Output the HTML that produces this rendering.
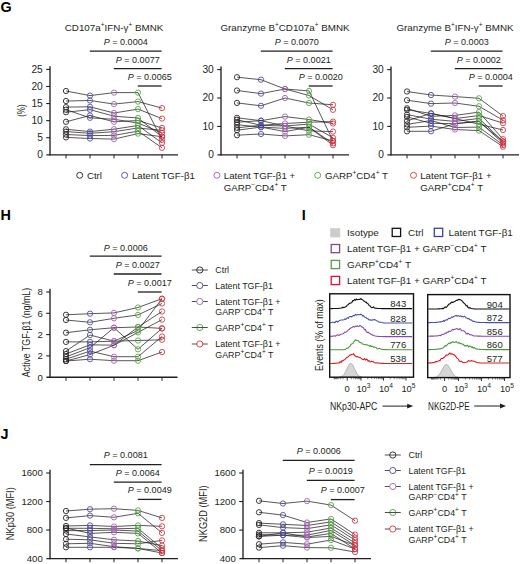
<!DOCTYPE html>
<html><head><meta charset="utf-8"><style>
html,body{margin:0;padding:0;background:#fff;}
body{width:520px;height:564px;overflow:hidden;}
svg{display:block;font-family:'Liberation Sans',sans-serif;}
svg text{font-family:"Liberation Sans",sans-serif;}
</style></head><body>
<svg width="520" height="564" viewBox="0 0 520 564">
<rect width="520" height="564" fill="#fff"/>
<text x="0.60" y="12.00" font-size="14.4" text-anchor="start" fill="#000" font-weight="bold">G</text>
<text x="114.00" y="31.00" font-size="9.8" text-anchor="middle" fill="#231f20" >CD107a<tspan font-size="6.5" dy="-3.6">+</tspan><tspan dy="3.6">​</tspan>IFN-γ<tspan font-size="6.5" dy="-3.6">+</tspan><tspan dy="3.6">​</tspan> BMNK</text>
<line x1="50.00" y1="66.20" x2="50.00" y2="155.40" stroke="#231f20" stroke-width="1.35" />
<line x1="46.40" y1="154.80" x2="178.00" y2="154.80" stroke="#231f20" stroke-width="1.35" />
<text x="42.80" y="158.20" font-size="10.2" text-anchor="end" fill="#231f20" >0</text>
<line x1="46.20" y1="137.72" x2="50.00" y2="137.72" stroke="#231f20" stroke-width="1.1" />
<text x="42.80" y="141.12" font-size="10.2" text-anchor="end" fill="#231f20" >5</text>
<line x1="46.20" y1="120.64" x2="50.00" y2="120.64" stroke="#231f20" stroke-width="1.1" />
<text x="42.80" y="124.04" font-size="10.2" text-anchor="end" fill="#231f20" >10</text>
<line x1="46.20" y1="103.56" x2="50.00" y2="103.56" stroke="#231f20" stroke-width="1.1" />
<text x="42.80" y="106.96" font-size="10.2" text-anchor="end" fill="#231f20" >15</text>
<line x1="46.20" y1="86.48" x2="50.00" y2="86.48" stroke="#231f20" stroke-width="1.1" />
<text x="42.80" y="89.88" font-size="10.2" text-anchor="end" fill="#231f20" >20</text>
<line x1="46.20" y1="69.40" x2="50.00" y2="69.40" stroke="#231f20" stroke-width="1.1" />
<text x="42.80" y="72.80" font-size="10.2" text-anchor="end" fill="#231f20" >25</text>
<line x1="66.00" y1="154.80" x2="66.00" y2="158.40" stroke="#231f20" stroke-width="1.0" />
<line x1="90.00" y1="154.80" x2="90.00" y2="158.40" stroke="#231f20" stroke-width="1.0" />
<line x1="114.00" y1="154.80" x2="114.00" y2="158.40" stroke="#231f20" stroke-width="1.0" />
<line x1="138.00" y1="154.80" x2="138.00" y2="158.40" stroke="#231f20" stroke-width="1.0" />
<line x1="162.00" y1="154.80" x2="162.00" y2="158.40" stroke="#231f20" stroke-width="1.0" />
<polyline fill="none" stroke="#231f20" stroke-width="0.75" points="66.00,91.00 90.00,95.60 114.00,92.60 138.00,92.60 162.00,139.80"/>
<polyline fill="none" stroke="#231f20" stroke-width="0.75" points="66.00,101.00 90.00,100.50 114.00,104.10 138.00,101.60 162.00,108.10"/>
<polyline fill="none" stroke="#231f20" stroke-width="0.75" points="66.00,107.10 90.00,106.80 114.00,113.00 138.00,109.10 162.00,118.60"/>
<polyline fill="none" stroke="#231f20" stroke-width="0.75" points="66.00,109.70 90.00,117.80 114.00,119.30 138.00,123.00 162.00,132.90"/>
<polyline fill="none" stroke="#231f20" stroke-width="0.75" points="66.00,112.20 90.00,109.70 114.00,116.20 138.00,118.00 162.00,136.70"/>
<polyline fill="none" stroke="#231f20" stroke-width="0.75" points="66.00,121.80 90.00,115.50 114.00,121.80 138.00,120.50 162.00,128.00"/>
<polyline fill="none" stroke="#231f20" stroke-width="0.75" points="66.00,129.30 90.00,131.60 114.00,129.20 138.00,125.50 162.00,142.90"/>
<polyline fill="none" stroke="#231f20" stroke-width="0.75" points="66.00,131.60 90.00,133.30 114.00,131.70 138.00,128.00 162.00,130.40"/>
<polyline fill="none" stroke="#231f20" stroke-width="0.75" points="66.00,134.50 90.00,135.60 114.00,135.40 138.00,131.10 162.00,147.80"/>
<polyline fill="none" stroke="#231f20" stroke-width="0.75" points="66.00,137.40 90.00,138.50 114.00,139.10 138.00,133.60 162.00,136.70"/>
<circle cx="66.00" cy="91.00" r="2.65" fill="none" stroke="#231f20" stroke-width="0.85"/>
<circle cx="66.00" cy="101.00" r="2.65" fill="none" stroke="#231f20" stroke-width="0.85"/>
<circle cx="66.00" cy="107.10" r="2.65" fill="none" stroke="#231f20" stroke-width="0.85"/>
<circle cx="66.00" cy="109.70" r="2.65" fill="none" stroke="#231f20" stroke-width="0.85"/>
<circle cx="66.00" cy="112.20" r="2.65" fill="none" stroke="#231f20" stroke-width="0.85"/>
<circle cx="66.00" cy="121.80" r="2.65" fill="none" stroke="#231f20" stroke-width="0.85"/>
<circle cx="66.00" cy="129.30" r="2.65" fill="none" stroke="#231f20" stroke-width="0.85"/>
<circle cx="66.00" cy="131.60" r="2.65" fill="none" stroke="#231f20" stroke-width="0.85"/>
<circle cx="66.00" cy="134.50" r="2.65" fill="none" stroke="#231f20" stroke-width="0.85"/>
<circle cx="66.00" cy="137.40" r="2.65" fill="none" stroke="#231f20" stroke-width="0.85"/>
<circle cx="90.00" cy="95.60" r="2.65" fill="none" stroke="#4a4a9c" stroke-width="0.85"/>
<circle cx="90.00" cy="100.50" r="2.65" fill="none" stroke="#4a4a9c" stroke-width="0.85"/>
<circle cx="90.00" cy="106.80" r="2.65" fill="none" stroke="#4a4a9c" stroke-width="0.85"/>
<circle cx="90.00" cy="117.80" r="2.65" fill="none" stroke="#4a4a9c" stroke-width="0.85"/>
<circle cx="90.00" cy="109.70" r="2.65" fill="none" stroke="#4a4a9c" stroke-width="0.85"/>
<circle cx="90.00" cy="115.50" r="2.65" fill="none" stroke="#4a4a9c" stroke-width="0.85"/>
<circle cx="90.00" cy="131.60" r="2.65" fill="none" stroke="#4a4a9c" stroke-width="0.85"/>
<circle cx="90.00" cy="133.30" r="2.65" fill="none" stroke="#4a4a9c" stroke-width="0.85"/>
<circle cx="90.00" cy="135.60" r="2.65" fill="none" stroke="#4a4a9c" stroke-width="0.85"/>
<circle cx="90.00" cy="138.50" r="2.65" fill="none" stroke="#4a4a9c" stroke-width="0.85"/>
<circle cx="114.00" cy="92.60" r="2.65" fill="none" stroke="#a062b0" stroke-width="0.85"/>
<circle cx="114.00" cy="104.10" r="2.65" fill="none" stroke="#a062b0" stroke-width="0.85"/>
<circle cx="114.00" cy="113.00" r="2.65" fill="none" stroke="#a062b0" stroke-width="0.85"/>
<circle cx="114.00" cy="119.30" r="2.65" fill="none" stroke="#a062b0" stroke-width="0.85"/>
<circle cx="114.00" cy="116.20" r="2.65" fill="none" stroke="#a062b0" stroke-width="0.85"/>
<circle cx="114.00" cy="121.80" r="2.65" fill="none" stroke="#a062b0" stroke-width="0.85"/>
<circle cx="114.00" cy="129.20" r="2.65" fill="none" stroke="#a062b0" stroke-width="0.85"/>
<circle cx="114.00" cy="131.70" r="2.65" fill="none" stroke="#a062b0" stroke-width="0.85"/>
<circle cx="114.00" cy="135.40" r="2.65" fill="none" stroke="#a062b0" stroke-width="0.85"/>
<circle cx="114.00" cy="139.10" r="2.65" fill="none" stroke="#a062b0" stroke-width="0.85"/>
<circle cx="138.00" cy="92.60" r="2.65" fill="none" stroke="#58a048" stroke-width="0.85"/>
<circle cx="138.00" cy="101.60" r="2.65" fill="none" stroke="#58a048" stroke-width="0.85"/>
<circle cx="138.00" cy="109.10" r="2.65" fill="none" stroke="#58a048" stroke-width="0.85"/>
<circle cx="138.00" cy="123.00" r="2.65" fill="none" stroke="#58a048" stroke-width="0.85"/>
<circle cx="138.00" cy="118.00" r="2.65" fill="none" stroke="#58a048" stroke-width="0.85"/>
<circle cx="138.00" cy="120.50" r="2.65" fill="none" stroke="#58a048" stroke-width="0.85"/>
<circle cx="138.00" cy="125.50" r="2.65" fill="none" stroke="#58a048" stroke-width="0.85"/>
<circle cx="138.00" cy="128.00" r="2.65" fill="none" stroke="#58a048" stroke-width="0.85"/>
<circle cx="138.00" cy="131.10" r="2.65" fill="none" stroke="#58a048" stroke-width="0.85"/>
<circle cx="138.00" cy="133.60" r="2.65" fill="none" stroke="#58a048" stroke-width="0.85"/>
<circle cx="162.00" cy="139.80" r="2.65" fill="none" stroke="#d23440" stroke-width="0.85"/>
<circle cx="162.00" cy="108.10" r="2.65" fill="none" stroke="#d23440" stroke-width="0.85"/>
<circle cx="162.00" cy="118.60" r="2.65" fill="none" stroke="#d23440" stroke-width="0.85"/>
<circle cx="162.00" cy="132.90" r="2.65" fill="none" stroke="#d23440" stroke-width="0.85"/>
<circle cx="162.00" cy="136.70" r="2.65" fill="none" stroke="#d23440" stroke-width="0.85"/>
<circle cx="162.00" cy="128.00" r="2.65" fill="none" stroke="#d23440" stroke-width="0.85"/>
<circle cx="162.00" cy="142.90" r="2.65" fill="none" stroke="#d23440" stroke-width="0.85"/>
<circle cx="162.00" cy="130.40" r="2.65" fill="none" stroke="#d23440" stroke-width="0.85"/>
<circle cx="162.00" cy="147.80" r="2.65" fill="none" stroke="#d23440" stroke-width="0.85"/>
<circle cx="162.00" cy="136.70" r="2.65" fill="none" stroke="#d23440" stroke-width="0.85"/>
<line x1="89.80" y1="51.20" x2="161.60" y2="51.20" stroke="#231f20" stroke-width="1.3" />
<text transform="translate(125.70,45.00) scale(0.975,1)" font-size="9.3" text-anchor="middle" fill="#231f20"><tspan font-style="italic">P</tspan> = 0.0004</text>
<line x1="113.80" y1="68.60" x2="161.60" y2="68.60" stroke="#231f20" stroke-width="1.3" />
<text transform="translate(137.70,62.50) scale(0.975,1)" font-size="9.3" text-anchor="middle" fill="#231f20"><tspan font-style="italic">P</tspan> = 0.0077</text>
<line x1="137.80" y1="86.00" x2="161.60" y2="86.00" stroke="#231f20" stroke-width="1.3" />
<text transform="translate(149.70,79.60) scale(0.975,1)" font-size="9.3" text-anchor="middle" fill="#231f20"><tspan font-style="italic">P</tspan> = 0.0065</text>
<text transform="translate(25.1,110.6) rotate(-90) scale(0.74,1)" font-size="10.8" text-anchor="middle" fill="#231f20">(%)</text>
<text x="285.00" y="31.00" font-size="9.8" text-anchor="middle" fill="#231f20" >Granzyme B<tspan font-size="6.5" dy="-3.6">+</tspan><tspan dy="3.6">​</tspan>CD107a<tspan font-size="6.5" dy="-3.6">+</tspan><tspan dy="3.6">​</tspan> BMNK</text>
<line x1="221.00" y1="66.40" x2="221.00" y2="155.40" stroke="#231f20" stroke-width="1.35" />
<line x1="217.40" y1="154.80" x2="349.00" y2="154.80" stroke="#231f20" stroke-width="1.35" />
<text x="213.80" y="158.20" font-size="10.2" text-anchor="end" fill="#231f20" >0</text>
<line x1="217.20" y1="126.40" x2="221.00" y2="126.40" stroke="#231f20" stroke-width="1.1" />
<text x="213.80" y="129.80" font-size="10.2" text-anchor="end" fill="#231f20" >10</text>
<line x1="217.20" y1="98.00" x2="221.00" y2="98.00" stroke="#231f20" stroke-width="1.1" />
<text x="213.80" y="101.40" font-size="10.2" text-anchor="end" fill="#231f20" >20</text>
<line x1="217.20" y1="69.60" x2="221.00" y2="69.60" stroke="#231f20" stroke-width="1.1" />
<text x="213.80" y="73.00" font-size="10.2" text-anchor="end" fill="#231f20" >30</text>
<line x1="237.00" y1="154.80" x2="237.00" y2="158.40" stroke="#231f20" stroke-width="1.0" />
<line x1="261.00" y1="154.80" x2="261.00" y2="158.40" stroke="#231f20" stroke-width="1.0" />
<line x1="285.00" y1="154.80" x2="285.00" y2="158.40" stroke="#231f20" stroke-width="1.0" />
<line x1="309.00" y1="154.80" x2="309.00" y2="158.40" stroke="#231f20" stroke-width="1.0" />
<line x1="333.00" y1="154.80" x2="333.00" y2="158.40" stroke="#231f20" stroke-width="1.0" />
<polyline fill="none" stroke="#231f20" stroke-width="0.75" points="237.00,77.20 261.00,79.70 285.00,89.00 309.00,90.90 333.00,140.90"/>
<polyline fill="none" stroke="#231f20" stroke-width="0.75" points="237.00,90.50 261.00,93.60 285.00,89.00 309.00,95.50 333.00,109.80"/>
<polyline fill="none" stroke="#231f20" stroke-width="0.75" points="237.00,102.90 261.00,105.80 285.00,98.00 309.00,103.00 333.00,104.80"/>
<polyline fill="none" stroke="#231f20" stroke-width="0.75" points="237.00,117.80 261.00,120.70 285.00,116.60 309.00,119.50 333.00,123.50"/>
<polyline fill="none" stroke="#231f20" stroke-width="0.75" points="237.00,119.70 261.00,125.30 285.00,123.50 309.00,122.20 333.00,121.60"/>
<polyline fill="none" stroke="#231f20" stroke-width="0.75" points="237.00,122.20 261.00,120.70 285.00,126.00 309.00,124.10 333.00,137.80"/>
<polyline fill="none" stroke="#231f20" stroke-width="0.75" points="237.00,124.70 261.00,127.10 285.00,128.40 309.00,127.20 333.00,143.40"/>
<polyline fill="none" stroke="#231f20" stroke-width="0.75" points="237.00,127.80 261.00,125.30 285.00,126.00 309.00,130.90 333.00,131.60"/>
<polyline fill="none" stroke="#231f20" stroke-width="0.75" points="237.00,130.20 261.00,127.10 285.00,131.60 309.00,127.20 333.00,145.20"/>
<polyline fill="none" stroke="#231f20" stroke-width="0.75" points="237.00,135.20 261.00,134.00 285.00,135.90 309.00,134.70 333.00,140.90"/>
<circle cx="237.00" cy="77.20" r="2.65" fill="none" stroke="#231f20" stroke-width="0.85"/>
<circle cx="237.00" cy="90.50" r="2.65" fill="none" stroke="#231f20" stroke-width="0.85"/>
<circle cx="237.00" cy="102.90" r="2.65" fill="none" stroke="#231f20" stroke-width="0.85"/>
<circle cx="237.00" cy="117.80" r="2.65" fill="none" stroke="#231f20" stroke-width="0.85"/>
<circle cx="237.00" cy="119.70" r="2.65" fill="none" stroke="#231f20" stroke-width="0.85"/>
<circle cx="237.00" cy="122.20" r="2.65" fill="none" stroke="#231f20" stroke-width="0.85"/>
<circle cx="237.00" cy="124.70" r="2.65" fill="none" stroke="#231f20" stroke-width="0.85"/>
<circle cx="237.00" cy="127.80" r="2.65" fill="none" stroke="#231f20" stroke-width="0.85"/>
<circle cx="237.00" cy="130.20" r="2.65" fill="none" stroke="#231f20" stroke-width="0.85"/>
<circle cx="237.00" cy="135.20" r="2.65" fill="none" stroke="#231f20" stroke-width="0.85"/>
<circle cx="261.00" cy="79.70" r="2.65" fill="none" stroke="#4a4a9c" stroke-width="0.85"/>
<circle cx="261.00" cy="93.60" r="2.65" fill="none" stroke="#4a4a9c" stroke-width="0.85"/>
<circle cx="261.00" cy="105.80" r="2.65" fill="none" stroke="#4a4a9c" stroke-width="0.85"/>
<circle cx="261.00" cy="120.70" r="2.65" fill="none" stroke="#4a4a9c" stroke-width="0.85"/>
<circle cx="261.00" cy="125.30" r="2.65" fill="none" stroke="#4a4a9c" stroke-width="0.85"/>
<circle cx="261.00" cy="120.70" r="2.65" fill="none" stroke="#4a4a9c" stroke-width="0.85"/>
<circle cx="261.00" cy="127.10" r="2.65" fill="none" stroke="#4a4a9c" stroke-width="0.85"/>
<circle cx="261.00" cy="125.30" r="2.65" fill="none" stroke="#4a4a9c" stroke-width="0.85"/>
<circle cx="261.00" cy="127.10" r="2.65" fill="none" stroke="#4a4a9c" stroke-width="0.85"/>
<circle cx="261.00" cy="134.00" r="2.65" fill="none" stroke="#4a4a9c" stroke-width="0.85"/>
<circle cx="285.00" cy="89.00" r="2.65" fill="none" stroke="#a062b0" stroke-width="0.85"/>
<circle cx="285.00" cy="89.00" r="2.65" fill="none" stroke="#a062b0" stroke-width="0.85"/>
<circle cx="285.00" cy="98.00" r="2.65" fill="none" stroke="#a062b0" stroke-width="0.85"/>
<circle cx="285.00" cy="116.60" r="2.65" fill="none" stroke="#a062b0" stroke-width="0.85"/>
<circle cx="285.00" cy="123.50" r="2.65" fill="none" stroke="#a062b0" stroke-width="0.85"/>
<circle cx="285.00" cy="126.00" r="2.65" fill="none" stroke="#a062b0" stroke-width="0.85"/>
<circle cx="285.00" cy="128.40" r="2.65" fill="none" stroke="#a062b0" stroke-width="0.85"/>
<circle cx="285.00" cy="126.00" r="2.65" fill="none" stroke="#a062b0" stroke-width="0.85"/>
<circle cx="285.00" cy="131.60" r="2.65" fill="none" stroke="#a062b0" stroke-width="0.85"/>
<circle cx="285.00" cy="135.90" r="2.65" fill="none" stroke="#a062b0" stroke-width="0.85"/>
<circle cx="309.00" cy="90.90" r="2.65" fill="none" stroke="#58a048" stroke-width="0.85"/>
<circle cx="309.00" cy="95.50" r="2.65" fill="none" stroke="#58a048" stroke-width="0.85"/>
<circle cx="309.00" cy="103.00" r="2.65" fill="none" stroke="#58a048" stroke-width="0.85"/>
<circle cx="309.00" cy="119.50" r="2.65" fill="none" stroke="#58a048" stroke-width="0.85"/>
<circle cx="309.00" cy="122.20" r="2.65" fill="none" stroke="#58a048" stroke-width="0.85"/>
<circle cx="309.00" cy="124.10" r="2.65" fill="none" stroke="#58a048" stroke-width="0.85"/>
<circle cx="309.00" cy="127.20" r="2.65" fill="none" stroke="#58a048" stroke-width="0.85"/>
<circle cx="309.00" cy="130.90" r="2.65" fill="none" stroke="#58a048" stroke-width="0.85"/>
<circle cx="309.00" cy="127.20" r="2.65" fill="none" stroke="#58a048" stroke-width="0.85"/>
<circle cx="309.00" cy="134.70" r="2.65" fill="none" stroke="#58a048" stroke-width="0.85"/>
<circle cx="333.00" cy="140.90" r="2.65" fill="none" stroke="#d23440" stroke-width="0.85"/>
<circle cx="333.00" cy="109.80" r="2.65" fill="none" stroke="#d23440" stroke-width="0.85"/>
<circle cx="333.00" cy="104.80" r="2.65" fill="none" stroke="#d23440" stroke-width="0.85"/>
<circle cx="333.00" cy="123.50" r="2.65" fill="none" stroke="#d23440" stroke-width="0.85"/>
<circle cx="333.00" cy="121.60" r="2.65" fill="none" stroke="#d23440" stroke-width="0.85"/>
<circle cx="333.00" cy="137.80" r="2.65" fill="none" stroke="#d23440" stroke-width="0.85"/>
<circle cx="333.00" cy="143.40" r="2.65" fill="none" stroke="#d23440" stroke-width="0.85"/>
<circle cx="333.00" cy="131.60" r="2.65" fill="none" stroke="#d23440" stroke-width="0.85"/>
<circle cx="333.00" cy="145.20" r="2.65" fill="none" stroke="#d23440" stroke-width="0.85"/>
<circle cx="333.00" cy="140.90" r="2.65" fill="none" stroke="#d23440" stroke-width="0.85"/>
<line x1="260.80" y1="51.20" x2="332.60" y2="51.20" stroke="#231f20" stroke-width="1.3" />
<text transform="translate(296.70,45.00) scale(0.975,1)" font-size="9.3" text-anchor="middle" fill="#231f20"><tspan font-style="italic">P</tspan> = 0.0070</text>
<line x1="284.80" y1="68.60" x2="332.60" y2="68.60" stroke="#231f20" stroke-width="1.3" />
<text transform="translate(308.70,62.50) scale(0.975,1)" font-size="9.3" text-anchor="middle" fill="#231f20"><tspan font-style="italic">P</tspan> = 0.0021</text>
<line x1="308.80" y1="86.00" x2="332.60" y2="86.00" stroke="#231f20" stroke-width="1.3" />
<text transform="translate(320.70,79.60) scale(0.975,1)" font-size="9.3" text-anchor="middle" fill="#231f20"><tspan font-style="italic">P</tspan> = 0.0020</text>
<text x="455.00" y="31.00" font-size="9.8" text-anchor="middle" fill="#231f20" >Granzyme B<tspan font-size="6.5" dy="-3.6">+</tspan><tspan dy="3.6">​</tspan>IFN-γ<tspan font-size="6.5" dy="-3.6">+</tspan><tspan dy="3.6">​</tspan> BMNK</text>
<line x1="391.00" y1="66.40" x2="391.00" y2="155.40" stroke="#231f20" stroke-width="1.35" />
<line x1="387.40" y1="154.80" x2="519.00" y2="154.80" stroke="#231f20" stroke-width="1.35" />
<text x="383.80" y="158.20" font-size="10.2" text-anchor="end" fill="#231f20" >0</text>
<line x1="387.20" y1="126.40" x2="391.00" y2="126.40" stroke="#231f20" stroke-width="1.1" />
<text x="383.80" y="129.80" font-size="10.2" text-anchor="end" fill="#231f20" >10</text>
<line x1="387.20" y1="98.00" x2="391.00" y2="98.00" stroke="#231f20" stroke-width="1.1" />
<text x="383.80" y="101.40" font-size="10.2" text-anchor="end" fill="#231f20" >20</text>
<line x1="387.20" y1="69.60" x2="391.00" y2="69.60" stroke="#231f20" stroke-width="1.1" />
<text x="383.80" y="73.00" font-size="10.2" text-anchor="end" fill="#231f20" >30</text>
<line x1="407.00" y1="154.80" x2="407.00" y2="158.40" stroke="#231f20" stroke-width="1.0" />
<line x1="431.00" y1="154.80" x2="431.00" y2="158.40" stroke="#231f20" stroke-width="1.0" />
<line x1="455.00" y1="154.80" x2="455.00" y2="158.40" stroke="#231f20" stroke-width="1.0" />
<line x1="479.00" y1="154.80" x2="479.00" y2="158.40" stroke="#231f20" stroke-width="1.0" />
<line x1="503.00" y1="154.80" x2="503.00" y2="158.40" stroke="#231f20" stroke-width="1.0" />
<polyline fill="none" stroke="#231f20" stroke-width="0.75" points="407.00,91.50 431.00,95.00 455.00,96.60 479.00,98.30 503.00,116.10"/>
<polyline fill="none" stroke="#231f20" stroke-width="0.75" points="407.00,100.20 431.00,103.60 455.00,103.00 479.00,106.30 503.00,120.20"/>
<polyline fill="none" stroke="#231f20" stroke-width="0.75" points="407.00,108.30 431.00,116.30 455.00,115.40 479.00,112.10 503.00,139.20"/>
<polyline fill="none" stroke="#231f20" stroke-width="0.75" points="407.00,109.80 431.00,113.40 455.00,118.50 479.00,115.60 503.00,123.10"/>
<polyline fill="none" stroke="#231f20" stroke-width="0.75" points="407.00,114.60 431.00,119.20 455.00,121.40 479.00,118.40 503.00,141.50"/>
<polyline fill="none" stroke="#231f20" stroke-width="0.75" points="407.00,116.90 431.00,123.30 455.00,123.70 479.00,121.30 503.00,143.20"/>
<polyline fill="none" stroke="#231f20" stroke-width="0.75" points="407.00,120.90 431.00,113.40 455.00,118.50 479.00,124.20 503.00,130.00"/>
<polyline fill="none" stroke="#231f20" stroke-width="0.75" points="407.00,124.40 431.00,120.50 455.00,127.50 479.00,127.10 503.00,145.00"/>
<polyline fill="none" stroke="#231f20" stroke-width="0.75" points="407.00,127.30 431.00,126.10 455.00,129.50 479.00,130.60 503.00,146.70"/>
<polyline fill="none" stroke="#231f20" stroke-width="0.75" points="407.00,131.30 431.00,131.30 455.00,123.70 479.00,121.30 503.00,141.50"/>
<circle cx="407.00" cy="91.50" r="2.65" fill="none" stroke="#231f20" stroke-width="0.85"/>
<circle cx="407.00" cy="100.20" r="2.65" fill="none" stroke="#231f20" stroke-width="0.85"/>
<circle cx="407.00" cy="108.30" r="2.65" fill="none" stroke="#231f20" stroke-width="0.85"/>
<circle cx="407.00" cy="109.80" r="2.65" fill="none" stroke="#231f20" stroke-width="0.85"/>
<circle cx="407.00" cy="114.60" r="2.65" fill="none" stroke="#231f20" stroke-width="0.85"/>
<circle cx="407.00" cy="116.90" r="2.65" fill="none" stroke="#231f20" stroke-width="0.85"/>
<circle cx="407.00" cy="120.90" r="2.65" fill="none" stroke="#231f20" stroke-width="0.85"/>
<circle cx="407.00" cy="124.40" r="2.65" fill="none" stroke="#231f20" stroke-width="0.85"/>
<circle cx="407.00" cy="127.30" r="2.65" fill="none" stroke="#231f20" stroke-width="0.85"/>
<circle cx="407.00" cy="131.30" r="2.65" fill="none" stroke="#231f20" stroke-width="0.85"/>
<circle cx="431.00" cy="95.00" r="2.65" fill="none" stroke="#4a4a9c" stroke-width="0.85"/>
<circle cx="431.00" cy="103.60" r="2.65" fill="none" stroke="#4a4a9c" stroke-width="0.85"/>
<circle cx="431.00" cy="116.30" r="2.65" fill="none" stroke="#4a4a9c" stroke-width="0.85"/>
<circle cx="431.00" cy="113.40" r="2.65" fill="none" stroke="#4a4a9c" stroke-width="0.85"/>
<circle cx="431.00" cy="119.20" r="2.65" fill="none" stroke="#4a4a9c" stroke-width="0.85"/>
<circle cx="431.00" cy="123.30" r="2.65" fill="none" stroke="#4a4a9c" stroke-width="0.85"/>
<circle cx="431.00" cy="113.40" r="2.65" fill="none" stroke="#4a4a9c" stroke-width="0.85"/>
<circle cx="431.00" cy="120.50" r="2.65" fill="none" stroke="#4a4a9c" stroke-width="0.85"/>
<circle cx="431.00" cy="126.10" r="2.65" fill="none" stroke="#4a4a9c" stroke-width="0.85"/>
<circle cx="431.00" cy="131.30" r="2.65" fill="none" stroke="#4a4a9c" stroke-width="0.85"/>
<circle cx="455.00" cy="96.60" r="2.65" fill="none" stroke="#a062b0" stroke-width="0.85"/>
<circle cx="455.00" cy="103.00" r="2.65" fill="none" stroke="#a062b0" stroke-width="0.85"/>
<circle cx="455.00" cy="115.40" r="2.65" fill="none" stroke="#a062b0" stroke-width="0.85"/>
<circle cx="455.00" cy="118.50" r="2.65" fill="none" stroke="#a062b0" stroke-width="0.85"/>
<circle cx="455.00" cy="121.40" r="2.65" fill="none" stroke="#a062b0" stroke-width="0.85"/>
<circle cx="455.00" cy="123.70" r="2.65" fill="none" stroke="#a062b0" stroke-width="0.85"/>
<circle cx="455.00" cy="118.50" r="2.65" fill="none" stroke="#a062b0" stroke-width="0.85"/>
<circle cx="455.00" cy="127.50" r="2.65" fill="none" stroke="#a062b0" stroke-width="0.85"/>
<circle cx="455.00" cy="129.50" r="2.65" fill="none" stroke="#a062b0" stroke-width="0.85"/>
<circle cx="455.00" cy="123.70" r="2.65" fill="none" stroke="#a062b0" stroke-width="0.85"/>
<circle cx="479.00" cy="98.30" r="2.65" fill="none" stroke="#58a048" stroke-width="0.85"/>
<circle cx="479.00" cy="106.30" r="2.65" fill="none" stroke="#58a048" stroke-width="0.85"/>
<circle cx="479.00" cy="112.10" r="2.65" fill="none" stroke="#58a048" stroke-width="0.85"/>
<circle cx="479.00" cy="115.60" r="2.65" fill="none" stroke="#58a048" stroke-width="0.85"/>
<circle cx="479.00" cy="118.40" r="2.65" fill="none" stroke="#58a048" stroke-width="0.85"/>
<circle cx="479.00" cy="121.30" r="2.65" fill="none" stroke="#58a048" stroke-width="0.85"/>
<circle cx="479.00" cy="124.20" r="2.65" fill="none" stroke="#58a048" stroke-width="0.85"/>
<circle cx="479.00" cy="127.10" r="2.65" fill="none" stroke="#58a048" stroke-width="0.85"/>
<circle cx="479.00" cy="130.60" r="2.65" fill="none" stroke="#58a048" stroke-width="0.85"/>
<circle cx="479.00" cy="121.30" r="2.65" fill="none" stroke="#58a048" stroke-width="0.85"/>
<circle cx="503.00" cy="116.10" r="2.65" fill="none" stroke="#d23440" stroke-width="0.85"/>
<circle cx="503.00" cy="120.20" r="2.65" fill="none" stroke="#d23440" stroke-width="0.85"/>
<circle cx="503.00" cy="139.20" r="2.65" fill="none" stroke="#d23440" stroke-width="0.85"/>
<circle cx="503.00" cy="123.10" r="2.65" fill="none" stroke="#d23440" stroke-width="0.85"/>
<circle cx="503.00" cy="141.50" r="2.65" fill="none" stroke="#d23440" stroke-width="0.85"/>
<circle cx="503.00" cy="143.20" r="2.65" fill="none" stroke="#d23440" stroke-width="0.85"/>
<circle cx="503.00" cy="130.00" r="2.65" fill="none" stroke="#d23440" stroke-width="0.85"/>
<circle cx="503.00" cy="145.00" r="2.65" fill="none" stroke="#d23440" stroke-width="0.85"/>
<circle cx="503.00" cy="146.70" r="2.65" fill="none" stroke="#d23440" stroke-width="0.85"/>
<circle cx="503.00" cy="141.50" r="2.65" fill="none" stroke="#d23440" stroke-width="0.85"/>
<line x1="430.80" y1="51.20" x2="502.60" y2="51.20" stroke="#231f20" stroke-width="1.3" />
<text transform="translate(466.70,45.00) scale(0.975,1)" font-size="9.3" text-anchor="middle" fill="#231f20"><tspan font-style="italic">P</tspan> = 0.0003</text>
<line x1="454.80" y1="68.60" x2="502.60" y2="68.60" stroke="#231f20" stroke-width="1.3" />
<text transform="translate(478.70,62.50) scale(0.975,1)" font-size="9.3" text-anchor="middle" fill="#231f20"><tspan font-style="italic">P</tspan> = 0.0002</text>
<line x1="478.80" y1="86.00" x2="502.60" y2="86.00" stroke="#231f20" stroke-width="1.3" />
<text transform="translate(490.70,79.60) scale(0.975,1)" font-size="9.3" text-anchor="middle" fill="#231f20"><tspan font-style="italic">P</tspan> = 0.0004</text>
<circle cx="79.70" cy="175.30" r="3.0" fill="none" stroke="#231f20" stroke-width="0.9"/>
<text x="86.90" y="178.90" font-size="9.7" text-anchor="start" fill="#231f20" >Ctrl</text>
<circle cx="124.60" cy="175.30" r="3.0" fill="none" stroke="#4a4a9c" stroke-width="0.9"/>
<text x="131.90" y="178.90" font-size="9.7" text-anchor="start" fill="#231f20" >Latent TGF-β1</text>
<circle cx="216.90" cy="175.30" r="3.0" fill="none" stroke="#a062b0" stroke-width="0.9"/>
<text x="223.80" y="178.90" font-size="9.7" text-anchor="start" fill="#231f20" >Latent TGF-β1 +</text>
<text x="223.80" y="190.50" font-size="9.7" text-anchor="start" fill="#231f20" >GARP<tspan font-size="6.5" dy="-3.6">−</tspan><tspan dy="3.6">​</tspan>CD4<tspan font-size="6.5" dy="-3.6">+</tspan><tspan dy="3.6">​</tspan> T</text>
<circle cx="317.70" cy="175.30" r="3.0" fill="none" stroke="#58a048" stroke-width="0.9"/>
<text x="325.00" y="178.90" font-size="9.7" text-anchor="start" fill="#231f20" >GARP<tspan font-size="6.5" dy="-3.6">+</tspan><tspan dy="3.6">​</tspan>CD4<tspan font-size="6.5" dy="-3.6">+</tspan><tspan dy="3.6">​</tspan> T</text>
<circle cx="413.50" cy="175.30" r="3.0" fill="none" stroke="#d23440" stroke-width="0.9"/>
<text x="420.20" y="178.90" font-size="9.7" text-anchor="start" fill="#231f20" >Latent TGF-β1 +</text>
<text x="420.20" y="190.50" font-size="9.7" text-anchor="start" fill="#231f20" >GARP<tspan font-size="6.5" dy="-3.6">+</tspan><tspan dy="3.6">​</tspan>CD4<tspan font-size="6.5" dy="-3.6">+</tspan><tspan dy="3.6">​</tspan> T</text>
<text x="0.60" y="220.00" font-size="14.4" text-anchor="start" fill="#000" font-weight="bold">H</text>
<line x1="50.00" y1="288.80" x2="50.00" y2="377.80" stroke="#231f20" stroke-width="1.35" />
<line x1="46.40" y1="377.20" x2="177.50" y2="377.20" stroke="#231f20" stroke-width="1.35" />
<text x="42.80" y="380.60" font-size="9.6" text-anchor="end" fill="#231f20" >0</text>
<line x1="46.20" y1="355.90" x2="50.00" y2="355.90" stroke="#231f20" stroke-width="1.1" />
<text x="42.80" y="359.30" font-size="9.6" text-anchor="end" fill="#231f20" >2</text>
<line x1="46.20" y1="334.60" x2="50.00" y2="334.60" stroke="#231f20" stroke-width="1.1" />
<text x="42.80" y="338.00" font-size="9.6" text-anchor="end" fill="#231f20" >2</text>
<line x1="46.20" y1="313.30" x2="50.00" y2="313.30" stroke="#231f20" stroke-width="1.1" />
<text x="42.80" y="316.70" font-size="9.6" text-anchor="end" fill="#231f20" >6</text>
<line x1="46.20" y1="292.00" x2="50.00" y2="292.00" stroke="#231f20" stroke-width="1.1" />
<text x="42.80" y="295.40" font-size="9.6" text-anchor="end" fill="#231f20" >8</text>
<line x1="66.00" y1="377.20" x2="66.00" y2="380.80" stroke="#231f20" stroke-width="1.0" />
<line x1="90.00" y1="377.20" x2="90.00" y2="380.80" stroke="#231f20" stroke-width="1.0" />
<line x1="114.00" y1="377.20" x2="114.00" y2="380.80" stroke="#231f20" stroke-width="1.0" />
<line x1="138.00" y1="377.20" x2="138.00" y2="380.80" stroke="#231f20" stroke-width="1.0" />
<line x1="162.00" y1="377.20" x2="162.00" y2="380.80" stroke="#231f20" stroke-width="1.0" />
<polyline fill="none" stroke="#231f20" stroke-width="0.75" points="66.00,314.80 90.00,313.70 114.00,312.90 138.00,307.50 162.00,298.70"/>
<polyline fill="none" stroke="#231f20" stroke-width="0.75" points="66.00,320.00 90.00,322.30 114.00,318.30 138.00,314.90 162.00,303.50"/>
<polyline fill="none" stroke="#231f20" stroke-width="0.75" points="66.00,332.70 90.00,329.80 114.00,327.70 138.00,327.00 162.00,311.50"/>
<polyline fill="none" stroke="#231f20" stroke-width="0.75" points="66.00,341.90 90.00,341.90 114.00,341.20 138.00,340.50 162.00,339.80"/>
<polyline fill="none" stroke="#231f20" stroke-width="0.75" points="66.00,351.10 90.00,335.00 114.00,341.20 138.00,330.40 162.00,298.70"/>
<polyline fill="none" stroke="#231f20" stroke-width="0.75" points="66.00,354.00 90.00,344.80 114.00,345.20 138.00,332.40 162.00,319.60"/>
<polyline fill="none" stroke="#231f20" stroke-width="0.75" points="66.00,356.90 90.00,347.70 114.00,327.70 138.00,349.30 162.00,328.40"/>
<polyline fill="none" stroke="#231f20" stroke-width="0.75" points="66.00,359.20 90.00,351.10 114.00,356.70 138.00,356.70 162.00,336.50"/>
<polyline fill="none" stroke="#231f20" stroke-width="0.75" points="66.00,361.00 90.00,359.20 114.00,360.70 138.00,360.70 162.00,352.00"/>
<polyline fill="none" stroke="#231f20" stroke-width="0.75" points="66.00,361.00 90.00,354.60 114.00,345.20 138.00,327.00 162.00,328.40"/>
<circle cx="66.00" cy="314.80" r="2.65" fill="none" stroke="#231f20" stroke-width="0.85"/>
<circle cx="66.00" cy="320.00" r="2.65" fill="none" stroke="#231f20" stroke-width="0.85"/>
<circle cx="66.00" cy="332.70" r="2.65" fill="none" stroke="#231f20" stroke-width="0.85"/>
<circle cx="66.00" cy="341.90" r="2.65" fill="none" stroke="#231f20" stroke-width="0.85"/>
<circle cx="66.00" cy="351.10" r="2.65" fill="none" stroke="#231f20" stroke-width="0.85"/>
<circle cx="66.00" cy="354.00" r="2.65" fill="none" stroke="#231f20" stroke-width="0.85"/>
<circle cx="66.00" cy="356.90" r="2.65" fill="none" stroke="#231f20" stroke-width="0.85"/>
<circle cx="66.00" cy="359.20" r="2.65" fill="none" stroke="#231f20" stroke-width="0.85"/>
<circle cx="66.00" cy="361.00" r="2.65" fill="none" stroke="#231f20" stroke-width="0.85"/>
<circle cx="66.00" cy="361.00" r="2.65" fill="none" stroke="#231f20" stroke-width="0.85"/>
<circle cx="90.00" cy="313.70" r="2.65" fill="none" stroke="#4a4a9c" stroke-width="0.85"/>
<circle cx="90.00" cy="322.30" r="2.65" fill="none" stroke="#4a4a9c" stroke-width="0.85"/>
<circle cx="90.00" cy="329.80" r="2.65" fill="none" stroke="#4a4a9c" stroke-width="0.85"/>
<circle cx="90.00" cy="341.90" r="2.65" fill="none" stroke="#4a4a9c" stroke-width="0.85"/>
<circle cx="90.00" cy="335.00" r="2.65" fill="none" stroke="#4a4a9c" stroke-width="0.85"/>
<circle cx="90.00" cy="344.80" r="2.65" fill="none" stroke="#4a4a9c" stroke-width="0.85"/>
<circle cx="90.00" cy="347.70" r="2.65" fill="none" stroke="#4a4a9c" stroke-width="0.85"/>
<circle cx="90.00" cy="351.10" r="2.65" fill="none" stroke="#4a4a9c" stroke-width="0.85"/>
<circle cx="90.00" cy="359.20" r="2.65" fill="none" stroke="#4a4a9c" stroke-width="0.85"/>
<circle cx="90.00" cy="354.60" r="2.65" fill="none" stroke="#4a4a9c" stroke-width="0.85"/>
<circle cx="114.00" cy="312.90" r="2.65" fill="none" stroke="#a062b0" stroke-width="0.85"/>
<circle cx="114.00" cy="318.30" r="2.65" fill="none" stroke="#a062b0" stroke-width="0.85"/>
<circle cx="114.00" cy="327.70" r="2.65" fill="none" stroke="#a062b0" stroke-width="0.85"/>
<circle cx="114.00" cy="341.20" r="2.65" fill="none" stroke="#a062b0" stroke-width="0.85"/>
<circle cx="114.00" cy="341.20" r="2.65" fill="none" stroke="#a062b0" stroke-width="0.85"/>
<circle cx="114.00" cy="345.20" r="2.65" fill="none" stroke="#a062b0" stroke-width="0.85"/>
<circle cx="114.00" cy="327.70" r="2.65" fill="none" stroke="#a062b0" stroke-width="0.85"/>
<circle cx="114.00" cy="356.70" r="2.65" fill="none" stroke="#a062b0" stroke-width="0.85"/>
<circle cx="114.00" cy="360.70" r="2.65" fill="none" stroke="#a062b0" stroke-width="0.85"/>
<circle cx="114.00" cy="345.20" r="2.65" fill="none" stroke="#a062b0" stroke-width="0.85"/>
<circle cx="138.00" cy="307.50" r="2.65" fill="none" stroke="#58a048" stroke-width="0.85"/>
<circle cx="138.00" cy="314.90" r="2.65" fill="none" stroke="#58a048" stroke-width="0.85"/>
<circle cx="138.00" cy="327.00" r="2.65" fill="none" stroke="#58a048" stroke-width="0.85"/>
<circle cx="138.00" cy="340.50" r="2.65" fill="none" stroke="#58a048" stroke-width="0.85"/>
<circle cx="138.00" cy="330.40" r="2.65" fill="none" stroke="#58a048" stroke-width="0.85"/>
<circle cx="138.00" cy="332.40" r="2.65" fill="none" stroke="#58a048" stroke-width="0.85"/>
<circle cx="138.00" cy="349.30" r="2.65" fill="none" stroke="#58a048" stroke-width="0.85"/>
<circle cx="138.00" cy="356.70" r="2.65" fill="none" stroke="#58a048" stroke-width="0.85"/>
<circle cx="138.00" cy="360.70" r="2.65" fill="none" stroke="#58a048" stroke-width="0.85"/>
<circle cx="138.00" cy="327.00" r="2.65" fill="none" stroke="#58a048" stroke-width="0.85"/>
<circle cx="162.00" cy="298.70" r="2.65" fill="none" stroke="#d23440" stroke-width="0.85"/>
<circle cx="162.00" cy="303.50" r="2.65" fill="none" stroke="#d23440" stroke-width="0.85"/>
<circle cx="162.00" cy="311.50" r="2.65" fill="none" stroke="#d23440" stroke-width="0.85"/>
<circle cx="162.00" cy="339.80" r="2.65" fill="none" stroke="#d23440" stroke-width="0.85"/>
<circle cx="162.00" cy="298.70" r="2.65" fill="none" stroke="#d23440" stroke-width="0.85"/>
<circle cx="162.00" cy="319.60" r="2.65" fill="none" stroke="#d23440" stroke-width="0.85"/>
<circle cx="162.00" cy="328.40" r="2.65" fill="none" stroke="#d23440" stroke-width="0.85"/>
<circle cx="162.00" cy="336.50" r="2.65" fill="none" stroke="#d23440" stroke-width="0.85"/>
<circle cx="162.00" cy="352.00" r="2.65" fill="none" stroke="#d23440" stroke-width="0.85"/>
<circle cx="162.00" cy="328.40" r="2.65" fill="none" stroke="#d23440" stroke-width="0.85"/>
<line x1="89.80" y1="256.20" x2="161.60" y2="256.20" stroke="#231f20" stroke-width="1.3" />
<text transform="translate(125.70,250.80) scale(0.975,1)" font-size="9.3" text-anchor="middle" fill="#231f20"><tspan font-style="italic">P</tspan> = 0.0006</text>
<line x1="113.80" y1="274.00" x2="161.60" y2="274.00" stroke="#231f20" stroke-width="1.3" />
<text transform="translate(137.70,268.30) scale(0.975,1)" font-size="9.3" text-anchor="middle" fill="#231f20"><tspan font-style="italic">P</tspan> = 0.0027</text>
<line x1="137.80" y1="292.00" x2="161.60" y2="292.00" stroke="#231f20" stroke-width="1.3" />
<text transform="translate(149.70,285.60) scale(0.975,1)" font-size="9.3" text-anchor="middle" fill="#231f20"><tspan font-style="italic">P</tspan> = 0.0017</text>
<text transform="translate(30.2,332.6) rotate(-90) scale(0.88,1)" font-size="10" text-anchor="middle" fill="#231f20">Active TGF-β1 (ng/mL)</text>
<circle cx="199.80" cy="270.00" r="3.1" fill="none" stroke="#231f20" stroke-width="0.9"/>
<line x1="191.80" y1="270.00" x2="207.80" y2="270.00" stroke="#3a3a3a" stroke-width="0.9" />
<text x="215.30" y="273.20" font-size="8.85" text-anchor="start" fill="#231f20" >Ctrl</text>
<line x1="191.80" y1="285.50" x2="207.80" y2="285.50" stroke="#3a3a3a" stroke-width="0.9" />
<circle cx="199.80" cy="285.50" r="3.1" fill="#fff" stroke="#4a4a9c" stroke-width="0.9"/>
<text x="215.30" y="288.70" font-size="8.85" text-anchor="start" fill="#231f20" >Latent TGF-β1</text>
<line x1="191.80" y1="301.50" x2="207.80" y2="301.50" stroke="#3a3a3a" stroke-width="0.9" />
<circle cx="199.80" cy="301.50" r="3.1" fill="#fff" stroke="#a062b0" stroke-width="0.9"/>
<text x="215.30" y="304.70" font-size="8.85" text-anchor="start" fill="#231f20" >Latent TGF-β1 +</text>
<text x="215.30" y="315.30" font-size="8.85" text-anchor="start" fill="#231f20" >GARP<tspan font-size="6.5" dy="-3.6">−</tspan><tspan dy="3.6">​</tspan>CD4<tspan font-size="6.5" dy="-3.6">+</tspan><tspan dy="3.6">​</tspan> T</text>
<circle cx="199.80" cy="327.50" r="3.1" fill="none" stroke="#58a048" stroke-width="0.9"/>
<line x1="191.80" y1="327.50" x2="207.80" y2="327.50" stroke="#3a3a3a" stroke-width="0.9" />
<text x="215.30" y="330.70" font-size="8.85" text-anchor="start" fill="#231f20" >GARP<tspan font-size="6.5" dy="-3.6">+</tspan><tspan dy="3.6">​</tspan>CD4<tspan font-size="6.5" dy="-3.6">+</tspan><tspan dy="3.6">​</tspan> T</text>
<line x1="191.80" y1="344.00" x2="207.80" y2="344.00" stroke="#3a3a3a" stroke-width="0.9" />
<circle cx="199.80" cy="344.00" r="3.1" fill="#fff" stroke="#d23440" stroke-width="0.9"/>
<text x="215.30" y="347.20" font-size="8.85" text-anchor="start" fill="#231f20" >Latent TGF-β1 +</text>
<text x="215.30" y="357.80" font-size="8.85" text-anchor="start" fill="#231f20" >GARP<tspan font-size="6.5" dy="-3.6">+</tspan><tspan dy="3.6">​</tspan>CD4<tspan font-size="6.5" dy="-3.6">+</tspan><tspan dy="3.6">​</tspan> T</text>
<text x="301.80" y="219.60" font-size="14.4" text-anchor="start" fill="#000" font-weight="bold">I</text>
<rect x="330.2" y="228.2" width="10" height="9.2" fill="#cccccc"/>
<text x="347.00" y="236.00" font-size="9.9" text-anchor="start" fill="#231f20" >Isotype</text>
<rect x="392.20" y="228.30" width="8.4" height="8.2" fill="none" stroke="#111" stroke-width="1.3"/>
<text x="408.00" y="236.00" font-size="9.9" text-anchor="start" fill="#231f20" >Ctrl</text>
<rect x="434.30" y="228.30" width="8.4" height="8.2" fill="none" stroke="#3a44a0" stroke-width="1.3"/>
<text x="448.60" y="236.00" font-size="9.9" text-anchor="start" fill="#231f20" >Latent TGF-β1</text>
<rect x="331.20" y="244.50" width="8.4" height="8.2" fill="none" stroke="#7d4a8e" stroke-width="1.3"/>
<text x="347.00" y="252.00" font-size="9.9" text-anchor="start" fill="#231f20" >Latent TGF-β1 + GARP<tspan font-size="6.5" dy="-3.6">−</tspan><tspan dy="3.6">​</tspan>CD4<tspan font-size="6.5" dy="-3.6">+</tspan><tspan dy="3.6">​</tspan> T</text>
<rect x="331.20" y="260.40" width="8.4" height="8.2" fill="none" stroke="#5e9a4e" stroke-width="1.3"/>
<text x="347.00" y="268.00" font-size="9.9" text-anchor="start" fill="#231f20" >GARP<tspan font-size="6.5" dy="-3.6">+</tspan><tspan dy="3.6">​</tspan>CD4<tspan font-size="6.5" dy="-3.6">+</tspan><tspan dy="3.6">​</tspan> T</text>
<rect x="331.20" y="276.40" width="8.4" height="8.2" fill="none" stroke="#d8123a" stroke-width="1.3"/>
<text x="347.00" y="284.00" font-size="9.9" text-anchor="start" fill="#231f20" >Latent TGF-β1 + GARP<tspan font-size="6.5" dy="-3.6">+</tspan><tspan dy="3.6">​</tspan>CD4<tspan font-size="6.5" dy="-3.6">+</tspan><tspan dy="3.6">​</tspan> T</text>
<path d="M330.30,308.59 L331.20,308.59 L332.10,308.58 L333.00,308.57 L333.90,308.56 L334.80,308.55 L335.70,308.52 L336.60,308.49 L337.50,308.45 L338.40,308.39 L339.30,308.31 L340.20,308.20 L341.10,308.06 L342.00,307.88 L342.90,307.18 L343.80,307.61 L344.70,307.20 L345.60,306.66 L346.50,306.38 L347.40,304.94 L348.30,304.68 L349.20,303.49 L350.10,303.15 L351.00,303.08 L351.90,302.34 L352.80,300.62 L353.70,300.61 L354.60,299.49 L355.50,300.18 L356.40,299.05 L357.30,299.77 L358.20,299.56 L359.10,299.33 L360.00,299.43 L360.90,298.56 L361.80,299.60 L362.70,299.71 L363.60,300.82 L364.50,301.19 L365.40,302.25 L366.30,302.14 L367.20,303.53 L368.10,303.82 L369.00,305.42 L369.90,305.82 L370.80,306.87 L371.70,307.57 L372.60,307.45 L373.50,307.03 L374.40,307.95 L375.30,308.15 L376.20,308.29 L377.10,308.39 L378.00,308.46 L378.90,308.51 L379.80,308.55 L380.70,308.57 L381.60,308.58 L382.50,308.59 L383.40,308.59 L384.30,308.60 L385.20,308.60 L386.10,308.60 L387.00,308.60 L387.90,308.60 L388.80,308.60 L389.70,308.60 L390.60,308.60 L391.50,308.60 L392.40,308.60 L393.30,308.60 L394.20,308.60 L395.10,308.60 L396.00,308.60 L396.90,308.60 L397.80,308.60 L398.70,308.60 L399.60,308.60 L400.50,308.60 L401.40,308.60 L402.30,308.60 L403.20,308.60 L404.10,308.60 L405.00,308.60 L405.90,308.60 L406.80,308.60 L407.70,308.60 L408.60,308.60 L409.50,308.60 L410.40,308.60 L411.30,308.60 L412.20,308.60" fill="none" stroke="#111" stroke-width="1.1"/>
<text x="406.20" y="307.20" font-size="9.5" text-anchor="end" fill="#231f20" >843</text>
<path d="M330.30,322.60 L331.20,322.52 L332.10,322.43 L333.00,322.32 L333.90,322.20 L334.80,322.75 L335.70,321.56 L336.60,321.15 L337.50,322.03 L338.40,321.51 L339.30,320.41 L340.20,320.31 L341.10,320.02 L342.00,319.93 L342.90,319.93 L343.80,319.80 L344.70,318.86 L345.60,319.44 L346.50,318.58 L347.40,317.69 L348.30,318.17 L349.20,316.80 L350.10,316.27 L351.00,316.81 L351.90,316.66 L352.80,315.86 L353.70,315.42 L354.60,315.68 L355.50,314.40 L356.40,315.03 L357.30,314.78 L358.20,314.60 L359.10,314.71 L360.00,314.64 L360.90,314.21 L361.80,314.60 L362.70,316.01 L363.60,315.63 L364.50,316.80 L365.40,317.57 L366.30,317.70 L367.20,318.72 L368.10,318.80 L369.00,319.91 L369.90,319.83 L370.80,320.13 L371.70,320.14 L372.60,319.87 L373.50,320.00 L374.40,319.39 L375.30,319.85 L376.20,320.54 L377.10,321.03 L378.00,321.23 L378.90,321.91 L379.80,322.16 L380.70,322.30 L381.60,322.54 L382.50,322.71 L383.40,322.82 L384.30,322.90 L385.20,322.94 L386.10,322.97 L387.00,322.99 L387.90,322.99 L388.80,323.00 L389.70,323.00 L390.60,323.00 L391.50,323.00 L392.40,323.00 L393.30,323.00 L394.20,323.00 L395.10,323.00 L396.00,323.00 L396.90,323.00 L397.80,323.00 L398.70,323.00 L399.60,323.00 L400.50,323.00 L401.40,323.00 L402.30,323.00 L403.20,323.00 L404.10,323.00 L405.00,323.00 L405.90,323.00 L406.80,323.00 L407.70,323.00 L408.60,323.00 L409.50,323.00 L410.40,323.00 L411.30,323.00 L412.20,323.00" fill="none" stroke="#4a52a8" stroke-width="1.1"/>
<text x="406.20" y="321.60" font-size="9.5" text-anchor="end" fill="#231f20" >828</text>
<path d="M330.30,336.39 L331.20,336.33 L332.10,336.25 L333.00,336.16 L333.90,336.05 L334.80,335.92 L335.70,336.20 L336.60,335.21 L337.50,334.76 L338.40,335.17 L339.30,335.39 L340.20,334.47 L341.10,334.26 L342.00,334.09 L342.90,333.76 L343.80,333.28 L344.70,332.03 L345.60,332.20 L346.50,331.79 L347.40,330.94 L348.30,329.99 L349.20,329.49 L350.10,328.50 L351.00,327.90 L351.90,327.61 L352.80,326.84 L353.70,326.60 L354.60,327.15 L355.50,326.24 L356.40,326.51 L357.30,325.91 L358.20,326.33 L359.10,326.19 L360.00,325.45 L360.90,326.08 L361.80,326.75 L362.70,327.55 L363.60,327.98 L364.50,329.66 L365.40,329.57 L366.30,331.56 L367.20,332.45 L368.10,332.19 L369.00,332.98 L369.90,333.42 L370.80,334.19 L371.70,334.48 L372.60,335.14 L373.50,335.20 L374.40,335.83 L375.30,336.03 L376.20,336.19 L377.10,336.31 L378.00,336.39 L378.90,336.46 L379.80,336.50 L380.70,336.54 L381.60,336.56 L382.50,336.57 L383.40,336.58 L384.30,336.59 L385.20,336.59 L386.10,336.60 L387.00,336.60 L387.90,336.60 L388.80,336.60 L389.70,336.60 L390.60,336.60 L391.50,336.60 L392.40,336.60 L393.30,336.60 L394.20,336.60 L395.10,336.60 L396.00,336.60 L396.90,336.60 L397.80,336.60 L398.70,336.60 L399.60,336.60 L400.50,336.60 L401.40,336.60 L402.30,336.60 L403.20,336.60 L404.10,336.60 L405.00,336.60 L405.90,336.60 L406.80,336.60 L407.70,336.60 L408.60,336.60 L409.50,336.60 L410.40,336.60 L411.30,336.60 L412.20,336.60" fill="none" stroke="#8a4aa8" stroke-width="1.1"/>
<text x="406.20" y="335.20" font-size="9.5" text-anchor="end" fill="#231f20" >805</text>
<path d="M330.30,349.80 L331.20,349.80 L332.10,349.80 L333.00,349.80 L333.90,349.80 L334.80,349.80 L335.70,349.80 L336.60,349.80 L337.50,349.80 L338.40,349.80 L339.30,349.79 L340.20,349.79 L341.10,349.77 L342.00,349.74 L342.90,349.69 L343.80,349.61 L344.70,349.48 L345.60,349.27 L346.50,348.41 L347.40,348.10 L348.30,348.08 L349.20,346.97 L350.10,346.10 L351.00,344.62 L351.90,343.84 L352.80,343.56 L353.70,341.97 L354.60,340.96 L355.50,340.00 L356.40,340.35 L357.30,340.78 L358.20,340.54 L359.10,341.94 L360.00,342.62 L360.90,342.62 L361.80,343.10 L362.70,344.07 L363.60,344.23 L364.50,344.51 L365.40,344.45 L366.30,345.01 L367.20,344.80 L368.10,345.26 L369.00,345.85 L369.90,346.27 L370.80,345.55 L371.70,346.70 L372.60,346.33 L373.50,347.25 L374.40,347.13 L375.30,347.23 L376.20,347.39 L377.10,348.71 L378.00,348.96 L378.90,348.44 L379.80,348.26 L380.70,349.10 L381.60,349.24 L382.50,349.36 L383.40,349.46 L384.30,349.54 L385.20,349.60 L386.10,349.65 L387.00,349.69 L387.90,349.72 L388.80,349.74 L389.70,349.76 L390.60,349.77 L391.50,349.78 L392.40,349.79 L393.30,349.79 L394.20,349.79 L395.10,349.80 L396.00,349.80 L396.90,349.80 L397.80,349.80 L398.70,349.80 L399.60,349.80 L400.50,349.80 L401.40,349.80 L402.30,349.80 L403.20,349.80 L404.10,349.80 L405.00,349.80 L405.90,349.80 L406.80,349.80 L407.70,349.80 L408.60,349.80 L409.50,349.80 L410.40,349.80 L411.30,349.80 L412.20,349.80" fill="none" stroke="#4a9a3a" stroke-width="1.1"/>
<text x="406.20" y="348.40" font-size="9.5" text-anchor="end" fill="#231f20" >776</text>
<path d="M330.30,363.49 L331.20,363.48 L332.10,363.46 L333.00,363.44 L333.90,363.40 L334.80,363.35 L335.70,363.28 L336.60,363.17 L337.50,363.01 L338.40,362.81 L339.30,362.98 L340.20,361.59 L341.10,362.38 L342.00,360.68 L342.90,360.97 L343.80,359.91 L344.70,359.59 L345.60,358.53 L346.50,357.70 L347.40,357.25 L348.30,356.67 L349.20,355.62 L350.10,354.85 L351.00,354.96 L351.90,354.23 L352.80,354.24 L353.70,353.74 L354.60,355.53 L355.50,356.02 L356.40,356.84 L357.30,356.53 L358.20,357.06 L359.10,357.53 L360.00,357.41 L360.90,358.15 L361.80,358.83 L362.70,359.44 L363.60,359.62 L364.50,358.71 L365.40,360.14 L366.30,359.19 L367.20,359.49 L368.10,361.16 L369.00,360.51 L369.90,361.77 L370.80,361.88 L371.70,361.19 L372.60,361.66 L373.50,361.79 L374.40,362.85 L375.30,362.98 L376.20,362.76 L377.10,362.91 L378.00,363.03 L378.90,363.13 L379.80,363.22 L380.70,363.28 L381.60,363.34 L382.50,363.38 L383.40,363.41 L384.30,363.44 L385.20,363.45 L386.10,363.47 L387.00,363.48 L387.90,363.48 L388.80,363.49 L389.70,363.49 L390.60,363.50 L391.50,363.50 L392.40,363.50 L393.30,363.50 L394.20,363.50 L395.10,363.50 L396.00,363.50 L396.90,363.50 L397.80,363.50 L398.70,363.50 L399.60,363.50 L400.50,363.50 L401.40,363.50 L402.30,363.50 L403.20,363.50 L404.10,363.50 L405.00,363.50 L405.90,363.50 L406.80,363.50 L407.70,363.50 L408.60,363.50 L409.50,363.50 L410.40,363.50 L411.30,363.50 L412.20,363.50" fill="none" stroke="#e01c24" stroke-width="1.1"/>
<text x="406.20" y="362.10" font-size="9.5" text-anchor="end" fill="#231f20" >538</text>
<path d="M339.40,377.05 L340.00,376.96 L340.60,376.82 L341.20,376.63 L341.80,376.36 L342.40,376.00 L343.00,375.52 L343.60,374.91 L344.20,374.15 L344.80,373.23 L345.40,372.17 L346.00,370.99 L346.60,369.71 L347.20,368.39 L347.80,367.09 L348.40,365.90 L349.00,364.86 L349.60,364.07 L350.20,363.57 L350.80,363.40 L351.40,363.57 L352.00,364.07 L352.60,364.86 L353.20,365.90 L353.80,367.09 L354.40,368.39 L355.00,369.71 L355.60,370.99 L356.20,372.17 L356.80,373.23 L357.40,374.15 L358.00,374.91 L358.60,375.52 L359.20,376.00 L359.80,376.36 L360.40,376.63 L361.00,376.82 L361.60,376.96 Z" fill="#d6d6d6" stroke="#9a9a9a" stroke-width="0.7"/>
<rect x="329.70" y="293.80" width="83.80" height="83.40" fill="none" stroke="#111" stroke-width="1.4"/>
<line x1="347.20" y1="377.20" x2="347.20" y2="380.60" stroke="#231f20" stroke-width="0.9" />
<line x1="361.00" y1="377.20" x2="361.00" y2="380.60" stroke="#231f20" stroke-width="0.9" />
<line x1="383.50" y1="377.20" x2="383.50" y2="380.60" stroke="#231f20" stroke-width="0.9" />
<line x1="406.00" y1="377.20" x2="406.00" y2="380.60" stroke="#231f20" stroke-width="0.9" />
<line x1="367.77" y1="377.20" x2="367.77" y2="379.20" stroke="#231f20" stroke-width="0.6" />
<line x1="371.74" y1="377.20" x2="371.74" y2="379.20" stroke="#231f20" stroke-width="0.6" />
<line x1="374.55" y1="377.20" x2="374.55" y2="379.20" stroke="#231f20" stroke-width="0.6" />
<line x1="376.73" y1="377.20" x2="376.73" y2="379.20" stroke="#231f20" stroke-width="0.6" />
<line x1="378.51" y1="377.20" x2="378.51" y2="379.20" stroke="#231f20" stroke-width="0.6" />
<line x1="380.01" y1="377.20" x2="380.01" y2="379.20" stroke="#231f20" stroke-width="0.6" />
<line x1="381.32" y1="377.20" x2="381.32" y2="379.20" stroke="#231f20" stroke-width="0.6" />
<line x1="382.47" y1="377.20" x2="382.47" y2="379.20" stroke="#231f20" stroke-width="0.6" />
<line x1="390.27" y1="377.20" x2="390.27" y2="379.20" stroke="#231f20" stroke-width="0.6" />
<line x1="394.24" y1="377.20" x2="394.24" y2="379.20" stroke="#231f20" stroke-width="0.6" />
<line x1="397.05" y1="377.20" x2="397.05" y2="379.20" stroke="#231f20" stroke-width="0.6" />
<line x1="399.23" y1="377.20" x2="399.23" y2="379.20" stroke="#231f20" stroke-width="0.6" />
<line x1="401.01" y1="377.20" x2="401.01" y2="379.20" stroke="#231f20" stroke-width="0.6" />
<line x1="402.51" y1="377.20" x2="402.51" y2="379.20" stroke="#231f20" stroke-width="0.6" />
<line x1="403.82" y1="377.20" x2="403.82" y2="379.20" stroke="#231f20" stroke-width="0.6" />
<line x1="404.97" y1="377.20" x2="404.97" y2="379.20" stroke="#231f20" stroke-width="0.6" />
<line x1="351.35" y1="377.20" x2="351.35" y2="379.20" stroke="#231f20" stroke-width="0.6" />
<line x1="343.05" y1="377.20" x2="343.05" y2="379.20" stroke="#231f20" stroke-width="0.6" />
<line x1="353.78" y1="377.20" x2="353.78" y2="379.20" stroke="#231f20" stroke-width="0.6" />
<line x1="340.62" y1="377.20" x2="340.62" y2="379.20" stroke="#231f20" stroke-width="0.6" />
<line x1="355.51" y1="377.20" x2="355.51" y2="379.20" stroke="#231f20" stroke-width="0.6" />
<line x1="338.89" y1="377.20" x2="338.89" y2="379.20" stroke="#231f20" stroke-width="0.6" />
<line x1="356.85" y1="377.20" x2="356.85" y2="379.20" stroke="#231f20" stroke-width="0.6" />
<line x1="337.55" y1="377.20" x2="337.55" y2="379.20" stroke="#231f20" stroke-width="0.6" />
<line x1="357.94" y1="377.20" x2="357.94" y2="379.20" stroke="#231f20" stroke-width="0.6" />
<line x1="336.46" y1="377.20" x2="336.46" y2="379.20" stroke="#231f20" stroke-width="0.6" />
<line x1="358.86" y1="377.20" x2="358.86" y2="379.20" stroke="#231f20" stroke-width="0.6" />
<line x1="335.54" y1="377.20" x2="335.54" y2="379.20" stroke="#231f20" stroke-width="0.6" />
<line x1="359.66" y1="377.20" x2="359.66" y2="379.20" stroke="#231f20" stroke-width="0.6" />
<line x1="334.74" y1="377.20" x2="334.74" y2="379.20" stroke="#231f20" stroke-width="0.6" />
<line x1="360.37" y1="377.20" x2="360.37" y2="379.20" stroke="#231f20" stroke-width="0.6" />
<line x1="334.03" y1="377.20" x2="334.03" y2="379.20" stroke="#231f20" stroke-width="0.6" />
<text x="347.20" y="391.80" font-size="9.4" text-anchor="middle" fill="#231f20" >0</text>
<text x="356.40" y="391.80" font-size="9.4" text-anchor="start" fill="#231f20" >10<tspan font-size="6.6" dy="-4.0">3</tspan><tspan dy="4.0">​</tspan></text>
<text x="378.90" y="391.80" font-size="9.4" text-anchor="start" fill="#231f20" >10<tspan font-size="6.6" dy="-4.0">4</tspan><tspan dy="4.0">​</tspan></text>
<text x="401.40" y="391.80" font-size="9.4" text-anchor="start" fill="#231f20" >10<tspan font-size="6.6" dy="-4.0">5</tspan><tspan dy="4.0">​</tspan></text>
<text transform="translate(330.0,409.6) scale(0.868,1)" font-size="10" fill="#231f20">NKp30-APC</text>
<line x1="382.50" y1="406.10" x2="409.20" y2="406.10" stroke="#231f20" stroke-width="1.0" />
<path d="M413.20,406.10 L407.20,403.70 L407.20,408.50 Z" fill="#231f20"/>
<path d="M428.30,309.00 L429.20,309.00 L430.10,309.00 L431.00,309.00 L431.90,309.00 L432.80,308.99 L433.70,308.99 L434.60,308.98 L435.50,308.97 L436.40,308.96 L437.30,308.94 L438.20,308.91 L439.10,308.87 L440.00,308.80 L440.90,308.72 L441.80,308.59 L442.70,308.41 L443.60,308.62 L444.50,307.35 L445.40,306.90 L446.30,307.38 L447.20,306.35 L448.10,305.09 L449.00,304.06 L449.90,303.91 L450.80,303.00 L451.70,302.10 L452.60,302.36 L453.50,302.13 L454.40,301.43 L455.30,301.23 L456.20,300.25 L457.10,300.49 L458.00,299.74 L458.90,299.39 L459.80,299.75 L460.70,299.87 L461.60,300.60 L462.50,301.17 L463.40,302.68 L464.30,303.45 L465.20,304.27 L466.10,305.73 L467.00,305.37 L467.90,307.31 L468.80,307.81 L469.70,307.69 L470.60,308.22 L471.50,308.48 L472.40,308.67 L473.30,308.80 L474.20,308.88 L475.10,308.93 L476.00,308.96 L476.90,308.98 L477.80,308.99 L478.70,308.99 L479.60,309.00 L480.50,309.00 L481.40,309.00 L482.30,309.00 L483.20,309.00 L484.10,309.00 L485.00,309.00 L485.90,309.00 L486.80,309.00 L487.70,309.00 L488.60,309.00 L489.50,309.00 L490.40,309.00 L491.30,309.00 L492.20,309.00 L493.10,309.00 L494.00,309.00 L494.90,309.00 L495.80,309.00 L496.70,309.00 L497.60,309.00 L498.50,309.00 L499.40,309.00 L500.30,309.00 L501.20,309.00 L502.10,309.00 L503.00,309.00 L503.90,309.00 L504.80,309.00 L505.70,309.00 L506.60,309.00 L507.50,309.00 L508.40,309.00 L509.30,309.00" fill="none" stroke="#111" stroke-width="1.1"/>
<text x="502.70" y="307.60" font-size="9.5" text-anchor="end" fill="#231f20" >904</text>
<path d="M428.30,322.59 L429.20,322.58 L430.10,322.58 L431.00,322.57 L431.90,322.55 L432.80,322.53 L433.70,322.50 L434.60,322.47 L435.50,322.42 L436.40,322.35 L437.30,322.27 L438.20,322.17 L439.10,322.04 L440.00,321.89 L440.90,321.90 L441.80,321.45 L442.70,321.38 L443.60,320.49 L444.50,321.27 L445.40,320.28 L446.30,319.91 L447.20,319.88 L448.10,318.86 L449.00,318.07 L449.90,318.67 L450.80,318.16 L451.70,316.87 L452.60,317.32 L453.50,316.40 L454.40,316.16 L455.30,315.66 L456.20,315.34 L457.10,316.33 L458.00,315.62 L458.90,316.07 L459.80,316.45 L460.70,315.70 L461.60,316.65 L462.50,316.56 L463.40,316.90 L464.30,316.26 L465.20,316.82 L466.10,317.84 L467.00,318.14 L467.90,318.84 L468.80,318.40 L469.70,319.63 L470.60,319.84 L471.50,320.11 L472.40,320.98 L473.30,321.36 L474.20,321.25 L475.10,321.81 L476.00,321.99 L476.90,322.13 L477.80,322.24 L478.70,322.33 L479.60,322.40 L480.50,322.45 L481.40,322.49 L482.30,322.52 L483.20,322.54 L484.10,322.56 L485.00,322.57 L485.90,322.58 L486.80,322.59 L487.70,322.59 L488.60,322.59 L489.50,322.60 L490.40,322.60 L491.30,322.60 L492.20,322.60 L493.10,322.60 L494.00,322.60 L494.90,322.60 L495.80,322.60 L496.70,322.60 L497.60,322.60 L498.50,322.60 L499.40,322.60 L500.30,322.60 L501.20,322.60 L502.10,322.60 L503.00,322.60 L503.90,322.60 L504.80,322.60 L505.70,322.60 L506.60,322.60 L507.50,322.60 L508.40,322.60 L509.30,322.60" fill="none" stroke="#4a52a8" stroke-width="1.1"/>
<text x="502.70" y="321.20" font-size="9.5" text-anchor="end" fill="#231f20" >872</text>
<path d="M428.30,336.19 L429.20,336.18 L430.10,336.17 L431.00,336.16 L431.90,336.14 L432.80,336.12 L433.70,336.09 L434.60,336.05 L435.50,335.99 L436.40,335.92 L437.30,335.83 L438.20,335.72 L439.10,335.58 L440.00,335.41 L440.90,335.65 L441.80,334.53 L442.70,334.39 L443.60,334.17 L444.50,334.00 L445.40,333.08 L446.30,333.16 L447.20,332.04 L448.10,332.39 L449.00,331.16 L449.90,331.20 L450.80,331.14 L451.70,330.28 L452.60,329.36 L453.50,329.80 L454.40,329.26 L455.30,329.27 L456.20,328.83 L457.10,328.57 L458.00,329.36 L458.90,329.36 L459.80,328.65 L460.70,329.24 L461.60,330.71 L462.50,330.71 L463.40,330.82 L464.30,331.18 L465.20,332.07 L466.10,333.58 L467.00,333.99 L467.90,333.28 L468.80,333.88 L469.70,334.68 L470.60,334.73 L471.50,334.75 L472.40,335.52 L473.30,335.69 L474.20,335.83 L475.10,335.93 L476.00,336.01 L476.90,336.07 L477.80,336.11 L478.70,336.14 L479.60,336.16 L480.50,336.17 L481.40,336.18 L482.30,336.19 L483.20,336.19 L484.10,336.20 L485.00,336.20 L485.90,336.20 L486.80,336.20 L487.70,336.20 L488.60,336.20 L489.50,336.20 L490.40,336.20 L491.30,336.20 L492.20,336.20 L493.10,336.20 L494.00,336.20 L494.90,336.20 L495.80,336.20 L496.70,336.20 L497.60,336.20 L498.50,336.20 L499.40,336.20 L500.30,336.20 L501.20,336.20 L502.10,336.20 L503.00,336.20 L503.90,336.20 L504.80,336.20 L505.70,336.20 L506.60,336.20 L507.50,336.20 L508.40,336.20 L509.30,336.20" fill="none" stroke="#8a4aa8" stroke-width="1.1"/>
<text x="502.70" y="334.80" font-size="9.5" text-anchor="end" fill="#231f20" >856</text>
<path d="M428.30,349.59 L429.20,349.59 L430.10,349.58 L431.00,349.57 L431.90,349.55 L432.80,349.52 L433.70,349.49 L434.60,349.44 L435.50,349.37 L436.40,349.28 L437.30,349.16 L438.20,349.01 L439.10,348.82 L440.00,348.89 L440.90,348.83 L441.80,348.25 L442.70,348.26 L443.60,347.00 L444.50,346.83 L445.40,345.51 L446.30,346.04 L447.20,344.75 L448.10,343.95 L449.00,343.14 L449.90,343.50 L450.80,342.54 L451.70,342.72 L452.60,341.61 L453.50,342.16 L454.40,342.38 L455.30,342.10 L456.20,341.66 L457.10,342.65 L458.00,343.01 L458.90,342.41 L459.80,343.40 L460.70,343.66 L461.60,343.69 L462.50,344.21 L463.40,344.20 L464.30,345.85 L465.20,345.62 L466.10,346.06 L467.00,345.41 L467.90,345.76 L468.80,346.91 L469.70,346.18 L470.60,346.22 L471.50,347.52 L472.40,346.83 L473.30,348.27 L474.20,347.46 L475.10,348.26 L476.00,348.86 L476.90,348.97 L477.80,349.15 L478.70,349.29 L479.60,349.38 L480.50,349.45 L481.40,349.50 L482.30,349.53 L483.20,349.55 L484.10,349.57 L485.00,349.58 L485.90,349.59 L486.80,349.59 L487.70,349.59 L488.60,349.60 L489.50,349.60 L490.40,349.60 L491.30,349.60 L492.20,349.60 L493.10,349.60 L494.00,349.60 L494.90,349.60 L495.80,349.60 L496.70,349.60 L497.60,349.60 L498.50,349.60 L499.40,349.60 L500.30,349.60 L501.20,349.60 L502.10,349.60 L503.00,349.60 L503.90,349.60 L504.80,349.60 L505.70,349.60 L506.60,349.60 L507.50,349.60 L508.40,349.60 L509.30,349.60" fill="none" stroke="#4a9a3a" stroke-width="1.1"/>
<text x="502.70" y="348.20" font-size="9.5" text-anchor="end" fill="#231f20" >860</text>
<path d="M428.30,362.95 L429.20,362.92 L430.10,362.89 L431.00,362.84 L431.90,362.77 L432.80,362.67 L433.70,362.55 L434.60,362.38 L435.50,361.60 L436.40,361.59 L437.30,361.75 L438.20,361.11 L439.10,360.56 L440.00,360.58 L440.90,358.96 L441.80,358.27 L442.70,358.62 L443.60,357.55 L444.50,357.27 L445.40,355.85 L446.30,354.91 L447.20,355.18 L448.10,354.79 L449.00,353.74 L449.90,353.08 L450.80,354.01 L451.70,353.68 L452.60,354.17 L453.50,354.73 L454.40,354.79 L455.30,355.90 L456.20,356.99 L457.10,358.39 L458.00,358.83 L458.90,360.32 L459.80,361.44 L460.70,361.42 L461.60,361.32 L462.50,362.28 L463.40,362.47 L464.30,362.54 L465.20,362.49 L466.10,362.32 L467.00,362.07 L467.90,361.01 L468.80,360.68 L469.70,361.14 L470.60,361.00 L471.50,360.63 L472.40,361.01 L473.30,361.14 L474.20,361.18 L475.10,361.39 L476.00,362.21 L476.90,362.47 L477.80,362.67 L478.70,362.80 L479.60,362.89 L480.50,362.94 L481.40,362.97 L482.30,362.99 L483.20,362.99 L484.10,363.00 L485.00,363.00 L485.90,363.00 L486.80,363.00 L487.70,363.00 L488.60,363.00 L489.50,363.00 L490.40,363.00 L491.30,363.00 L492.20,363.00 L493.10,363.00 L494.00,363.00 L494.90,363.00 L495.80,363.00 L496.70,363.00 L497.60,363.00 L498.50,363.00 L499.40,363.00 L500.30,363.00 L501.20,363.00 L502.10,363.00 L503.00,363.00 L503.90,363.00 L504.80,363.00 L505.70,363.00 L506.60,363.00 L507.50,363.00 L508.40,363.00 L509.30,363.00" fill="none" stroke="#e01c24" stroke-width="1.1"/>
<text x="502.70" y="361.60" font-size="9.5" text-anchor="end" fill="#231f20" >577</text>
<path d="M433.80,377.45 L434.40,377.38 L435.00,377.27 L435.60,377.12 L436.20,376.91 L436.80,376.63 L437.40,376.27 L438.00,375.81 L438.60,375.25 L439.20,374.56 L439.80,373.76 L440.40,372.84 L441.00,371.82 L441.60,370.73 L442.20,369.59 L442.80,368.46 L443.40,367.37 L444.00,366.39 L444.60,365.56 L445.20,364.93 L445.80,364.53 L446.40,364.40 L447.00,364.53 L447.60,364.93 L448.20,365.56 L448.80,366.39 L449.40,367.37 L450.00,368.46 L450.60,369.59 L451.20,370.73 L451.80,371.82 L452.40,372.84 L453.00,373.76 L453.60,374.56 L454.20,375.25 L454.80,375.81 L455.40,376.27 L456.00,376.63 L456.60,376.91 L457.20,377.12 L457.80,377.27 L458.40,377.38 Z" fill="#d6d6d6" stroke="#9a9a9a" stroke-width="0.7"/>
<rect x="427.70" y="294.60" width="82.30" height="83.00" fill="none" stroke="#111" stroke-width="1.4"/>
<line x1="444.60" y1="377.60" x2="444.60" y2="381.00" stroke="#231f20" stroke-width="0.9" />
<line x1="458.50" y1="377.60" x2="458.50" y2="381.00" stroke="#231f20" stroke-width="0.9" />
<line x1="481.50" y1="377.60" x2="481.50" y2="381.00" stroke="#231f20" stroke-width="0.9" />
<line x1="504.50" y1="377.60" x2="504.50" y2="381.00" stroke="#231f20" stroke-width="0.9" />
<line x1="465.42" y1="377.60" x2="465.42" y2="379.60" stroke="#231f20" stroke-width="0.6" />
<line x1="469.47" y1="377.60" x2="469.47" y2="379.60" stroke="#231f20" stroke-width="0.6" />
<line x1="472.35" y1="377.60" x2="472.35" y2="379.60" stroke="#231f20" stroke-width="0.6" />
<line x1="474.58" y1="377.60" x2="474.58" y2="379.60" stroke="#231f20" stroke-width="0.6" />
<line x1="476.40" y1="377.60" x2="476.40" y2="379.60" stroke="#231f20" stroke-width="0.6" />
<line x1="477.94" y1="377.60" x2="477.94" y2="379.60" stroke="#231f20" stroke-width="0.6" />
<line x1="479.27" y1="377.60" x2="479.27" y2="379.60" stroke="#231f20" stroke-width="0.6" />
<line x1="480.45" y1="377.60" x2="480.45" y2="379.60" stroke="#231f20" stroke-width="0.6" />
<line x1="488.42" y1="377.60" x2="488.42" y2="379.60" stroke="#231f20" stroke-width="0.6" />
<line x1="492.47" y1="377.60" x2="492.47" y2="379.60" stroke="#231f20" stroke-width="0.6" />
<line x1="495.35" y1="377.60" x2="495.35" y2="379.60" stroke="#231f20" stroke-width="0.6" />
<line x1="497.58" y1="377.60" x2="497.58" y2="379.60" stroke="#231f20" stroke-width="0.6" />
<line x1="499.40" y1="377.60" x2="499.40" y2="379.60" stroke="#231f20" stroke-width="0.6" />
<line x1="500.94" y1="377.60" x2="500.94" y2="379.60" stroke="#231f20" stroke-width="0.6" />
<line x1="502.27" y1="377.60" x2="502.27" y2="379.60" stroke="#231f20" stroke-width="0.6" />
<line x1="503.45" y1="377.60" x2="503.45" y2="379.60" stroke="#231f20" stroke-width="0.6" />
<line x1="448.78" y1="377.60" x2="448.78" y2="379.60" stroke="#231f20" stroke-width="0.6" />
<line x1="440.42" y1="377.60" x2="440.42" y2="379.60" stroke="#231f20" stroke-width="0.6" />
<line x1="451.23" y1="377.60" x2="451.23" y2="379.60" stroke="#231f20" stroke-width="0.6" />
<line x1="437.97" y1="377.60" x2="437.97" y2="379.60" stroke="#231f20" stroke-width="0.6" />
<line x1="452.97" y1="377.60" x2="452.97" y2="379.60" stroke="#231f20" stroke-width="0.6" />
<line x1="436.23" y1="377.60" x2="436.23" y2="379.60" stroke="#231f20" stroke-width="0.6" />
<line x1="454.32" y1="377.60" x2="454.32" y2="379.60" stroke="#231f20" stroke-width="0.6" />
<line x1="434.88" y1="377.60" x2="434.88" y2="379.60" stroke="#231f20" stroke-width="0.6" />
<line x1="455.42" y1="377.60" x2="455.42" y2="379.60" stroke="#231f20" stroke-width="0.6" />
<line x1="433.78" y1="377.60" x2="433.78" y2="379.60" stroke="#231f20" stroke-width="0.6" />
<line x1="456.35" y1="377.60" x2="456.35" y2="379.60" stroke="#231f20" stroke-width="0.6" />
<line x1="432.85" y1="377.60" x2="432.85" y2="379.60" stroke="#231f20" stroke-width="0.6" />
<line x1="457.15" y1="377.60" x2="457.15" y2="379.60" stroke="#231f20" stroke-width="0.6" />
<line x1="432.05" y1="377.60" x2="432.05" y2="379.60" stroke="#231f20" stroke-width="0.6" />
<line x1="457.86" y1="377.60" x2="457.86" y2="379.60" stroke="#231f20" stroke-width="0.6" />
<line x1="431.34" y1="377.60" x2="431.34" y2="379.60" stroke="#231f20" stroke-width="0.6" />
<text x="444.60" y="392.20" font-size="9.4" text-anchor="middle" fill="#231f20" >0</text>
<text x="453.90" y="392.20" font-size="9.4" text-anchor="start" fill="#231f20" >10<tspan font-size="6.6" dy="-4.0">3</tspan><tspan dy="4.0">​</tspan></text>
<text x="476.90" y="392.20" font-size="9.4" text-anchor="start" fill="#231f20" >10<tspan font-size="6.6" dy="-4.0">4</tspan><tspan dy="4.0">​</tspan></text>
<text x="499.90" y="392.20" font-size="9.4" text-anchor="start" fill="#231f20" >10<tspan font-size="6.6" dy="-4.0">5</tspan><tspan dy="4.0">​</tspan></text>
<text transform="translate(428.0,409.5) scale(0.818,1)" font-size="10" fill="#231f20">NKG2D-PE</text>
<line x1="474.20" y1="406.00" x2="502.00" y2="406.00" stroke="#231f20" stroke-width="1.0" />
<path d="M506.00,406.00 L500.00,403.60 L500.00,408.40 Z" fill="#231f20"/>
<text transform="translate(322.6,335.2) rotate(-90) scale(0.88,1)" font-size="10" text-anchor="middle" fill="#231f20">Events (% of max)</text>
<text x="0.60" y="439.00" font-size="14.4" text-anchor="start" fill="#000" font-weight="bold">J</text>
<line x1="50.00" y1="469.80" x2="50.00" y2="559.20" stroke="#231f20" stroke-width="1.35" />
<line x1="46.40" y1="558.60" x2="178.00" y2="558.60" stroke="#231f20" stroke-width="1.35" />
<text x="42.80" y="562.00" font-size="9.6" text-anchor="end" fill="#231f20" >400</text>
<line x1="46.20" y1="530.07" x2="50.00" y2="530.07" stroke="#231f20" stroke-width="1.1" />
<text x="42.80" y="533.47" font-size="9.6" text-anchor="end" fill="#231f20" >800</text>
<line x1="46.20" y1="501.53" x2="50.00" y2="501.53" stroke="#231f20" stroke-width="1.1" />
<text x="42.80" y="504.93" font-size="9.6" text-anchor="end" fill="#231f20" >1200</text>
<line x1="46.20" y1="473.00" x2="50.00" y2="473.00" stroke="#231f20" stroke-width="1.1" />
<text x="42.80" y="476.40" font-size="9.6" text-anchor="end" fill="#231f20" >1600</text>
<line x1="66.00" y1="558.60" x2="66.00" y2="562.20" stroke="#231f20" stroke-width="1.0" />
<line x1="90.00" y1="558.60" x2="90.00" y2="562.20" stroke="#231f20" stroke-width="1.0" />
<line x1="114.00" y1="558.60" x2="114.00" y2="562.20" stroke="#231f20" stroke-width="1.0" />
<line x1="138.00" y1="558.60" x2="138.00" y2="562.20" stroke="#231f20" stroke-width="1.0" />
<line x1="162.00" y1="558.60" x2="162.00" y2="562.20" stroke="#231f20" stroke-width="1.0" />
<polyline fill="none" stroke="#231f20" stroke-width="0.75" points="66.00,511.00 90.00,509.20 114.00,508.70 138.00,510.40 162.00,517.90"/>
<polyline fill="none" stroke="#231f20" stroke-width="0.75" points="66.00,517.90 90.00,515.60 114.00,517.30 138.00,513.30 162.00,532.90"/>
<polyline fill="none" stroke="#231f20" stroke-width="0.75" points="66.00,526.00 90.00,525.40 114.00,526.50 138.00,525.40 162.00,526.30"/>
<polyline fill="none" stroke="#231f20" stroke-width="0.75" points="66.00,528.30 90.00,528.30 114.00,528.80 138.00,528.30 162.00,548.40"/>
<polyline fill="none" stroke="#231f20" stroke-width="0.75" points="66.00,530.60 90.00,530.60 114.00,530.00 138.00,531.10 162.00,550.70"/>
<polyline fill="none" stroke="#231f20" stroke-width="0.75" points="66.00,528.00 90.00,533.40 114.00,532.30 138.00,533.40 162.00,553.00"/>
<polyline fill="none" stroke="#231f20" stroke-width="0.75" points="66.00,534.00 90.00,536.90 114.00,539.80 138.00,541.00 162.00,545.60"/>
<polyline fill="none" stroke="#231f20" stroke-width="0.75" points="66.00,539.20 90.00,539.80 114.00,543.30 138.00,543.80 162.00,540.40"/>
<polyline fill="none" stroke="#231f20" stroke-width="0.75" points="66.00,543.80 90.00,543.30 114.00,546.70 138.00,548.40 162.00,550.70"/>
<polyline fill="none" stroke="#231f20" stroke-width="0.75" points="66.00,547.30 90.00,547.30 114.00,547.30 138.00,548.40 162.00,553.00"/>
<circle cx="66.00" cy="511.00" r="2.65" fill="none" stroke="#231f20" stroke-width="0.85"/>
<circle cx="66.00" cy="517.90" r="2.65" fill="none" stroke="#231f20" stroke-width="0.85"/>
<circle cx="66.00" cy="526.00" r="2.65" fill="none" stroke="#231f20" stroke-width="0.85"/>
<circle cx="66.00" cy="528.30" r="2.65" fill="none" stroke="#231f20" stroke-width="0.85"/>
<circle cx="66.00" cy="530.60" r="2.65" fill="none" stroke="#231f20" stroke-width="0.85"/>
<circle cx="66.00" cy="528.00" r="2.65" fill="none" stroke="#231f20" stroke-width="0.85"/>
<circle cx="66.00" cy="534.00" r="2.65" fill="none" stroke="#231f20" stroke-width="0.85"/>
<circle cx="66.00" cy="539.20" r="2.65" fill="none" stroke="#231f20" stroke-width="0.85"/>
<circle cx="66.00" cy="543.80" r="2.65" fill="none" stroke="#231f20" stroke-width="0.85"/>
<circle cx="66.00" cy="547.30" r="2.65" fill="none" stroke="#231f20" stroke-width="0.85"/>
<circle cx="90.00" cy="509.20" r="2.65" fill="none" stroke="#4a4a9c" stroke-width="0.85"/>
<circle cx="90.00" cy="515.60" r="2.65" fill="none" stroke="#4a4a9c" stroke-width="0.85"/>
<circle cx="90.00" cy="525.40" r="2.65" fill="none" stroke="#4a4a9c" stroke-width="0.85"/>
<circle cx="90.00" cy="528.30" r="2.65" fill="none" stroke="#4a4a9c" stroke-width="0.85"/>
<circle cx="90.00" cy="530.60" r="2.65" fill="none" stroke="#4a4a9c" stroke-width="0.85"/>
<circle cx="90.00" cy="533.40" r="2.65" fill="none" stroke="#4a4a9c" stroke-width="0.85"/>
<circle cx="90.00" cy="536.90" r="2.65" fill="none" stroke="#4a4a9c" stroke-width="0.85"/>
<circle cx="90.00" cy="539.80" r="2.65" fill="none" stroke="#4a4a9c" stroke-width="0.85"/>
<circle cx="90.00" cy="543.30" r="2.65" fill="none" stroke="#4a4a9c" stroke-width="0.85"/>
<circle cx="90.00" cy="547.30" r="2.65" fill="none" stroke="#4a4a9c" stroke-width="0.85"/>
<circle cx="114.00" cy="508.70" r="2.65" fill="none" stroke="#a062b0" stroke-width="0.85"/>
<circle cx="114.00" cy="517.30" r="2.65" fill="none" stroke="#a062b0" stroke-width="0.85"/>
<circle cx="114.00" cy="526.50" r="2.65" fill="none" stroke="#a062b0" stroke-width="0.85"/>
<circle cx="114.00" cy="528.80" r="2.65" fill="none" stroke="#a062b0" stroke-width="0.85"/>
<circle cx="114.00" cy="530.00" r="2.65" fill="none" stroke="#a062b0" stroke-width="0.85"/>
<circle cx="114.00" cy="532.30" r="2.65" fill="none" stroke="#a062b0" stroke-width="0.85"/>
<circle cx="114.00" cy="539.80" r="2.65" fill="none" stroke="#a062b0" stroke-width="0.85"/>
<circle cx="114.00" cy="543.30" r="2.65" fill="none" stroke="#a062b0" stroke-width="0.85"/>
<circle cx="114.00" cy="546.70" r="2.65" fill="none" stroke="#a062b0" stroke-width="0.85"/>
<circle cx="114.00" cy="547.30" r="2.65" fill="none" stroke="#a062b0" stroke-width="0.85"/>
<circle cx="138.00" cy="510.40" r="2.65" fill="none" stroke="#58a048" stroke-width="0.85"/>
<circle cx="138.00" cy="513.30" r="2.65" fill="none" stroke="#58a048" stroke-width="0.85"/>
<circle cx="138.00" cy="525.40" r="2.65" fill="none" stroke="#58a048" stroke-width="0.85"/>
<circle cx="138.00" cy="528.30" r="2.65" fill="none" stroke="#58a048" stroke-width="0.85"/>
<circle cx="138.00" cy="531.10" r="2.65" fill="none" stroke="#58a048" stroke-width="0.85"/>
<circle cx="138.00" cy="533.40" r="2.65" fill="none" stroke="#58a048" stroke-width="0.85"/>
<circle cx="138.00" cy="541.00" r="2.65" fill="none" stroke="#58a048" stroke-width="0.85"/>
<circle cx="138.00" cy="543.80" r="2.65" fill="none" stroke="#58a048" stroke-width="0.85"/>
<circle cx="138.00" cy="548.40" r="2.65" fill="none" stroke="#58a048" stroke-width="0.85"/>
<circle cx="138.00" cy="548.40" r="2.65" fill="none" stroke="#58a048" stroke-width="0.85"/>
<circle cx="162.00" cy="517.90" r="2.65" fill="none" stroke="#d23440" stroke-width="0.85"/>
<circle cx="162.00" cy="532.90" r="2.65" fill="none" stroke="#d23440" stroke-width="0.85"/>
<circle cx="162.00" cy="526.30" r="2.65" fill="none" stroke="#d23440" stroke-width="0.85"/>
<circle cx="162.00" cy="548.40" r="2.65" fill="none" stroke="#d23440" stroke-width="0.85"/>
<circle cx="162.00" cy="550.70" r="2.65" fill="none" stroke="#d23440" stroke-width="0.85"/>
<circle cx="162.00" cy="553.00" r="2.65" fill="none" stroke="#d23440" stroke-width="0.85"/>
<circle cx="162.00" cy="545.60" r="2.65" fill="none" stroke="#d23440" stroke-width="0.85"/>
<circle cx="162.00" cy="540.40" r="2.65" fill="none" stroke="#d23440" stroke-width="0.85"/>
<circle cx="162.00" cy="550.70" r="2.65" fill="none" stroke="#d23440" stroke-width="0.85"/>
<circle cx="162.00" cy="553.00" r="2.65" fill="none" stroke="#d23440" stroke-width="0.85"/>
<line x1="89.80" y1="464.60" x2="161.60" y2="464.60" stroke="#231f20" stroke-width="1.3" />
<text transform="translate(125.70,458.00) scale(0.975,1)" font-size="9.3" text-anchor="middle" fill="#231f20"><tspan font-style="italic">P</tspan> = 0.0081</text>
<line x1="113.80" y1="482.20" x2="161.60" y2="482.20" stroke="#231f20" stroke-width="1.3" />
<text transform="translate(137.70,475.80) scale(0.975,1)" font-size="9.3" text-anchor="middle" fill="#231f20"><tspan font-style="italic">P</tspan> = 0.0064</text>
<line x1="137.80" y1="499.40" x2="161.60" y2="499.40" stroke="#231f20" stroke-width="1.3" />
<text transform="translate(149.70,493.40) scale(0.975,1)" font-size="9.3" text-anchor="middle" fill="#231f20"><tspan font-style="italic">P</tspan> = 0.0049</text>
<text transform="translate(14.200000000000003,513.7) rotate(-90) scale(0.925,1)" font-size="10" text-anchor="middle" fill="#231f20">NKp30 (MFI)</text>
<line x1="243.00" y1="469.80" x2="243.00" y2="559.20" stroke="#231f20" stroke-width="1.35" />
<line x1="239.40" y1="558.60" x2="371.00" y2="558.60" stroke="#231f20" stroke-width="1.35" />
<text x="235.80" y="562.00" font-size="9.6" text-anchor="end" fill="#231f20" >400</text>
<line x1="239.20" y1="530.07" x2="243.00" y2="530.07" stroke="#231f20" stroke-width="1.1" />
<text x="235.80" y="533.47" font-size="9.6" text-anchor="end" fill="#231f20" >800</text>
<line x1="239.20" y1="501.53" x2="243.00" y2="501.53" stroke="#231f20" stroke-width="1.1" />
<text x="235.80" y="504.93" font-size="9.6" text-anchor="end" fill="#231f20" >1200</text>
<line x1="239.20" y1="473.00" x2="243.00" y2="473.00" stroke="#231f20" stroke-width="1.1" />
<text x="235.80" y="476.40" font-size="9.6" text-anchor="end" fill="#231f20" >1600</text>
<line x1="259.00" y1="558.60" x2="259.00" y2="562.20" stroke="#231f20" stroke-width="1.0" />
<line x1="283.00" y1="558.60" x2="283.00" y2="562.20" stroke="#231f20" stroke-width="1.0" />
<line x1="307.00" y1="558.60" x2="307.00" y2="562.20" stroke="#231f20" stroke-width="1.0" />
<line x1="331.00" y1="558.60" x2="331.00" y2="562.20" stroke="#231f20" stroke-width="1.0" />
<line x1="355.00" y1="558.60" x2="355.00" y2="562.20" stroke="#231f20" stroke-width="1.0" />
<polyline fill="none" stroke="#231f20" stroke-width="0.75" points="259.00,500.80 283.00,503.50 307.00,501.10 331.00,505.10 355.00,520.70"/>
<polyline fill="none" stroke="#231f20" stroke-width="0.75" points="259.00,512.30 283.00,515.10 307.00,522.50 331.00,518.90 355.00,534.60"/>
<polyline fill="none" stroke="#231f20" stroke-width="0.75" points="259.00,523.10 283.00,524.30 307.00,525.50 331.00,521.90 355.00,537.60"/>
<polyline fill="none" stroke="#231f20" stroke-width="0.75" points="259.00,524.90 283.00,527.60 307.00,528.60 331.00,524.90 355.00,540.00"/>
<polyline fill="none" stroke="#231f20" stroke-width="0.75" points="259.00,532.80 283.00,532.80 307.00,532.20 331.00,528.00 355.00,543.00"/>
<polyline fill="none" stroke="#231f20" stroke-width="0.75" points="259.00,534.60 283.00,535.20 307.00,535.20 331.00,530.40 355.00,545.40"/>
<polyline fill="none" stroke="#231f20" stroke-width="0.75" points="259.00,536.40 283.00,532.80 307.00,537.00 331.00,533.40 355.00,549.00"/>
<polyline fill="none" stroke="#231f20" stroke-width="0.75" points="259.00,544.20 283.00,542.40 307.00,544.20 331.00,540.00 355.00,549.00"/>
<polyline fill="none" stroke="#231f20" stroke-width="0.75" points="259.00,547.60 283.00,545.70 307.00,547.60 331.00,547.80 355.00,552.00"/>
<polyline fill="none" stroke="#231f20" stroke-width="0.75" points="259.00,536.40 283.00,535.20 307.00,537.60 331.00,536.40 355.00,545.40"/>
<circle cx="259.00" cy="500.80" r="2.65" fill="none" stroke="#231f20" stroke-width="0.85"/>
<circle cx="259.00" cy="512.30" r="2.65" fill="none" stroke="#231f20" stroke-width="0.85"/>
<circle cx="259.00" cy="523.10" r="2.65" fill="none" stroke="#231f20" stroke-width="0.85"/>
<circle cx="259.00" cy="524.90" r="2.65" fill="none" stroke="#231f20" stroke-width="0.85"/>
<circle cx="259.00" cy="532.80" r="2.65" fill="none" stroke="#231f20" stroke-width="0.85"/>
<circle cx="259.00" cy="534.60" r="2.65" fill="none" stroke="#231f20" stroke-width="0.85"/>
<circle cx="259.00" cy="536.40" r="2.65" fill="none" stroke="#231f20" stroke-width="0.85"/>
<circle cx="259.00" cy="544.20" r="2.65" fill="none" stroke="#231f20" stroke-width="0.85"/>
<circle cx="259.00" cy="547.60" r="2.65" fill="none" stroke="#231f20" stroke-width="0.85"/>
<circle cx="259.00" cy="536.40" r="2.65" fill="none" stroke="#231f20" stroke-width="0.85"/>
<circle cx="283.00" cy="503.50" r="2.65" fill="none" stroke="#4a4a9c" stroke-width="0.85"/>
<circle cx="283.00" cy="515.10" r="2.65" fill="none" stroke="#4a4a9c" stroke-width="0.85"/>
<circle cx="283.00" cy="524.30" r="2.65" fill="none" stroke="#4a4a9c" stroke-width="0.85"/>
<circle cx="283.00" cy="527.60" r="2.65" fill="none" stroke="#4a4a9c" stroke-width="0.85"/>
<circle cx="283.00" cy="532.80" r="2.65" fill="none" stroke="#4a4a9c" stroke-width="0.85"/>
<circle cx="283.00" cy="535.20" r="2.65" fill="none" stroke="#4a4a9c" stroke-width="0.85"/>
<circle cx="283.00" cy="532.80" r="2.65" fill="none" stroke="#4a4a9c" stroke-width="0.85"/>
<circle cx="283.00" cy="542.40" r="2.65" fill="none" stroke="#4a4a9c" stroke-width="0.85"/>
<circle cx="283.00" cy="545.70" r="2.65" fill="none" stroke="#4a4a9c" stroke-width="0.85"/>
<circle cx="283.00" cy="535.20" r="2.65" fill="none" stroke="#4a4a9c" stroke-width="0.85"/>
<circle cx="307.00" cy="501.10" r="2.65" fill="none" stroke="#a062b0" stroke-width="0.85"/>
<circle cx="307.00" cy="522.50" r="2.65" fill="none" stroke="#a062b0" stroke-width="0.85"/>
<circle cx="307.00" cy="525.50" r="2.65" fill="none" stroke="#a062b0" stroke-width="0.85"/>
<circle cx="307.00" cy="528.60" r="2.65" fill="none" stroke="#a062b0" stroke-width="0.85"/>
<circle cx="307.00" cy="532.20" r="2.65" fill="none" stroke="#a062b0" stroke-width="0.85"/>
<circle cx="307.00" cy="535.20" r="2.65" fill="none" stroke="#a062b0" stroke-width="0.85"/>
<circle cx="307.00" cy="537.00" r="2.65" fill="none" stroke="#a062b0" stroke-width="0.85"/>
<circle cx="307.00" cy="544.20" r="2.65" fill="none" stroke="#a062b0" stroke-width="0.85"/>
<circle cx="307.00" cy="547.60" r="2.65" fill="none" stroke="#a062b0" stroke-width="0.85"/>
<circle cx="307.00" cy="537.60" r="2.65" fill="none" stroke="#a062b0" stroke-width="0.85"/>
<circle cx="331.00" cy="505.10" r="2.65" fill="none" stroke="#58a048" stroke-width="0.85"/>
<circle cx="331.00" cy="518.90" r="2.65" fill="none" stroke="#58a048" stroke-width="0.85"/>
<circle cx="331.00" cy="521.90" r="2.65" fill="none" stroke="#58a048" stroke-width="0.85"/>
<circle cx="331.00" cy="524.90" r="2.65" fill="none" stroke="#58a048" stroke-width="0.85"/>
<circle cx="331.00" cy="528.00" r="2.65" fill="none" stroke="#58a048" stroke-width="0.85"/>
<circle cx="331.00" cy="530.40" r="2.65" fill="none" stroke="#58a048" stroke-width="0.85"/>
<circle cx="331.00" cy="533.40" r="2.65" fill="none" stroke="#58a048" stroke-width="0.85"/>
<circle cx="331.00" cy="540.00" r="2.65" fill="none" stroke="#58a048" stroke-width="0.85"/>
<circle cx="331.00" cy="547.80" r="2.65" fill="none" stroke="#58a048" stroke-width="0.85"/>
<circle cx="331.00" cy="536.40" r="2.65" fill="none" stroke="#58a048" stroke-width="0.85"/>
<circle cx="355.00" cy="520.70" r="2.65" fill="none" stroke="#d23440" stroke-width="0.85"/>
<circle cx="355.00" cy="534.60" r="2.65" fill="none" stroke="#d23440" stroke-width="0.85"/>
<circle cx="355.00" cy="537.60" r="2.65" fill="none" stroke="#d23440" stroke-width="0.85"/>
<circle cx="355.00" cy="540.00" r="2.65" fill="none" stroke="#d23440" stroke-width="0.85"/>
<circle cx="355.00" cy="543.00" r="2.65" fill="none" stroke="#d23440" stroke-width="0.85"/>
<circle cx="355.00" cy="545.40" r="2.65" fill="none" stroke="#d23440" stroke-width="0.85"/>
<circle cx="355.00" cy="549.00" r="2.65" fill="none" stroke="#d23440" stroke-width="0.85"/>
<circle cx="355.00" cy="549.00" r="2.65" fill="none" stroke="#d23440" stroke-width="0.85"/>
<circle cx="355.00" cy="552.00" r="2.65" fill="none" stroke="#d23440" stroke-width="0.85"/>
<circle cx="355.00" cy="545.40" r="2.65" fill="none" stroke="#d23440" stroke-width="0.85"/>
<line x1="282.80" y1="460.40" x2="354.60" y2="460.40" stroke="#231f20" stroke-width="1.3" />
<text transform="translate(318.70,453.80) scale(0.975,1)" font-size="9.3" text-anchor="middle" fill="#231f20"><tspan font-style="italic">P</tspan> = 0.0006</text>
<line x1="306.80" y1="480.40" x2="354.60" y2="480.40" stroke="#231f20" stroke-width="1.3" />
<text transform="translate(330.70,474.00) scale(0.975,1)" font-size="9.3" text-anchor="middle" fill="#231f20"><tspan font-style="italic">P</tspan> = 0.0019</text>
<line x1="330.80" y1="499.60" x2="354.60" y2="499.60" stroke="#231f20" stroke-width="1.3" />
<text transform="translate(342.70,493.00) scale(0.975,1)" font-size="9.3" text-anchor="middle" fill="#231f20"><tspan font-style="italic">P</tspan> = 0.0007</text>
<text transform="translate(207.2,513.7) rotate(-90) scale(0.925,1)" font-size="10" text-anchor="middle" fill="#231f20">NKG2D (MFI)</text>
<circle cx="392.80" cy="455.00" r="3.1" fill="none" stroke="#231f20" stroke-width="0.9"/>
<line x1="384.80" y1="455.00" x2="400.80" y2="455.00" stroke="#3a3a3a" stroke-width="0.9" />
<text x="408.50" y="458.20" font-size="8.85" text-anchor="start" fill="#231f20" >Ctrl</text>
<line x1="384.80" y1="470.50" x2="400.80" y2="470.50" stroke="#3a3a3a" stroke-width="0.9" />
<circle cx="392.80" cy="470.50" r="3.1" fill="#fff" stroke="#4a4a9c" stroke-width="0.9"/>
<text x="408.50" y="473.70" font-size="8.85" text-anchor="start" fill="#231f20" >Latent TGF-β1</text>
<line x1="384.80" y1="486.50" x2="400.80" y2="486.50" stroke="#3a3a3a" stroke-width="0.9" />
<circle cx="392.80" cy="486.50" r="3.1" fill="#fff" stroke="#a062b0" stroke-width="0.9"/>
<text x="408.50" y="489.70" font-size="8.85" text-anchor="start" fill="#231f20" >Latent TGF-β1 +</text>
<text x="408.50" y="500.30" font-size="8.85" text-anchor="start" fill="#231f20" >GARP<tspan font-size="6.5" dy="-3.6">−</tspan><tspan dy="3.6">​</tspan>CD4<tspan font-size="6.5" dy="-3.6">+</tspan><tspan dy="3.6">​</tspan> T</text>
<circle cx="392.80" cy="512.50" r="3.1" fill="none" stroke="#58a048" stroke-width="0.9"/>
<line x1="384.80" y1="512.50" x2="400.80" y2="512.50" stroke="#3a3a3a" stroke-width="0.9" />
<text x="408.50" y="515.70" font-size="8.85" text-anchor="start" fill="#231f20" >GARP<tspan font-size="6.5" dy="-3.6">+</tspan><tspan dy="3.6">​</tspan>CD4<tspan font-size="6.5" dy="-3.6">+</tspan><tspan dy="3.6">​</tspan> T</text>
<line x1="384.80" y1="529.00" x2="400.80" y2="529.00" stroke="#3a3a3a" stroke-width="0.9" />
<circle cx="392.80" cy="529.00" r="3.1" fill="#fff" stroke="#d23440" stroke-width="0.9"/>
<text x="408.50" y="532.20" font-size="8.85" text-anchor="start" fill="#231f20" >Latent TGF-β1 +</text>
<text x="408.50" y="542.80" font-size="8.85" text-anchor="start" fill="#231f20" >GARP<tspan font-size="6.5" dy="-3.6">+</tspan><tspan dy="3.6">​</tspan>CD4<tspan font-size="6.5" dy="-3.6">+</tspan><tspan dy="3.6">​</tspan> T</text>
</svg>
</body></html>
